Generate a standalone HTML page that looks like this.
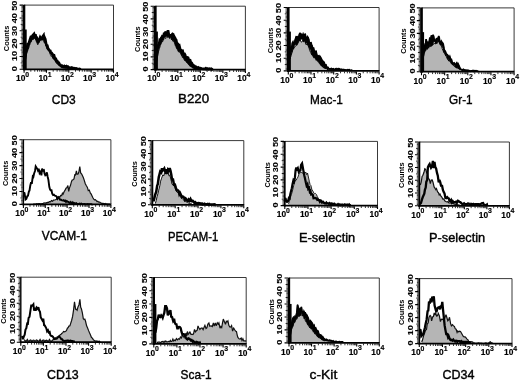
<!DOCTYPE html>
<html><head><meta charset="utf-8"><title>Flow cytometry histograms</title>
<style>
html,body{margin:0;padding:0;background:#fff;}
body{width:520px;height:380px;overflow:hidden;font-family:"Liberation Sans",sans-serif;}
svg{display:block;will-change:transform;opacity:0.999;filter:blur(0.3px)}
text{font-family:"Liberation Sans",sans-serif;fill:#000}
.yt{font-size:8.1px;font-weight:bold;stroke:#000;stroke-width:0.12px}
.ct{font-size:7.4px;font-weight:bold}
.xt{font-size:8.4px;font-weight:bold;stroke:#000;stroke-width:0.15px}
.xs{font-size:6.9px;font-weight:bold;stroke:#000;stroke-width:0.15px}
.lb{font-size:12.4px;stroke:#000;stroke-width:0.38px}
</style></head><body>
<svg width="520" height="380" viewBox="0 0 520 380">
<rect width="520" height="380" fill="#fff"/>
<g><path d="M25.0,69.3 L25.0,62.0 L25.9,58.5 L26.8,52.4 L27.5,51.4 L28.6,48.0 L29.3,46.4 L30.0,41.5 L30.9,42.2 L31.6,40.1 L32.4,39.0 L33.3,36.7 L34.2,38.8 L35.1,36.5 L36.3,41.8 L37.3,42.2 L38.1,42.0 L38.9,40.9 L40.0,40.3 L40.8,38.0 L41.9,39.8 L42.9,38.6 L43.6,41.4 L44.6,43.1 L45.3,42.9 L46.1,45.3 L46.8,48.2 L47.8,50.4 L48.6,49.9 L49.6,51.8 L50.4,55.1 L51.3,56.6 L52.1,55.8 L52.9,58.2 L53.6,59.3 L54.6,59.7 L55.7,62.2 L56.8,63.4 L57.9,64.5 L58.6,64.4 L59.4,66.1 L60.3,66.2 L61.0,67.2 L62.0,67.6 L62.9,67.4 L63.9,67.9 L64.9,68.3 L65.7,68.1 L66.4,68.1 L67.1,68.6 L68.0,68.3 L69.1,68.3 L70.1,68.7 L70.7,68.9 L71.7,68.8 L72.7,68.6 L73.5,69.0 L74.4,68.7 L75.0,69.0 L75.0,69.3Z" fill="#b5b5b5" stroke="none"/><path d="M25.0,62.0 L25.9,58.5 L26.8,52.4 L27.5,51.4 L28.6,48.0 L29.3,46.4 L30.0,41.5 L30.9,42.2 L31.6,40.1 L32.4,39.0 L33.3,36.7 L34.2,38.8 L35.1,36.5 L36.3,41.8 L37.3,42.2 L38.1,42.0 L38.9,40.9 L40.0,40.3 L40.8,38.0 L41.9,39.8 L42.9,38.6 L43.6,41.4 L44.6,43.1 L45.3,42.9 L46.1,45.3 L46.8,48.2 L47.8,50.4 L48.6,49.9 L49.6,51.8 L50.4,55.1 L51.3,56.6 L52.1,55.8 L52.9,58.2 L53.6,59.3 L54.6,59.7 L55.7,62.2 L56.8,63.4 L57.9,64.5 L58.6,64.4 L59.4,66.1 L60.3,66.2 L61.0,67.2 L62.0,67.6 L62.9,67.4 L63.9,67.9 L64.9,68.3 L65.7,68.1 L66.4,68.1 L67.1,68.6 L68.0,68.3 L69.1,68.3 L70.1,68.7 L70.7,68.9 L71.7,68.8 L72.7,68.6 L73.5,69.0 L74.4,68.7 L75.0,69.0" fill="none" stroke="#111" stroke-width="0.8" stroke-linejoin="miter" stroke-miterlimit="3"/><path d="M25.0,56.0 L25.7,53.7 L26.3,50.9 L26.9,48.5 L27.6,44.2 L28.2,44.2 L29.0,42.6 L29.6,40.7 L30.3,38.5 L30.8,39.2 L31.4,35.8 L31.9,37.2 L32.6,35.4 L33.3,34.8 L34.1,33.8 L34.9,36.1 L35.4,34.4 L36.3,38.5 L36.9,38.2 L37.5,40.5 L38.2,39.9 L38.7,40.7 L39.4,39.1 L40.1,37.3 L40.8,38.5 L41.4,36.9 L42.1,39.3 L42.7,36.5 L43.6,35.2 L44.1,39.0 L44.7,37.8 L45.3,39.2 L45.9,42.5 L46.4,45.1 L47.3,45.5 L48.0,48.3 L48.7,49.3 L49.4,50.4 L50.3,50.8 L50.9,52.8 L51.7,52.9 L52.5,54.2 L53.1,54.7 L53.7,56.8 L54.3,56.2 L55.0,58.9 L55.9,58.9 L56.6,61.1 L57.3,61.1 L58.1,62.7 L58.9,62.8 L59.7,64.6 L60.5,64.9 L61.2,66.0 L62.0,65.8 L62.5,66.9 L63.2,66.9 L63.8,66.7 L64.4,66.0 L65.2,66.5 L65.8,66.4 L66.5,66.0 L67.2,66.7 L68.0,66.6 L68.6,67.2 L69.2,67.5 L70.0,67.7 L70.7,67.9 L71.4,67.6 L72.0,68.3 L72.7,67.9 L73.6,68.5 L74.2,68.2 L74.9,68.6 L75.5,68.8 L76.1,68.4 L76.7,68.5 L77.4,69.0 L78.0,69.0 L78.8,69.0 L79.5,68.9 L80.0,69.0 L75.0,69.0 L74.4,68.9 L73.6,69.0 L73.0,68.7 L72.4,68.7 L71.7,68.6 L71.0,68.6 L70.2,68.6 L69.4,68.7 L68.9,68.4 L68.1,68.6 L67.5,68.6 L66.8,68.4 L66.0,68.1 L65.4,68.3 L64.8,67.8 L64.3,68.1 L63.4,67.8 L62.7,67.2 L62.1,67.0 L61.2,66.7 L60.7,66.5 L60.0,66.4 L59.2,65.1 L58.6,65.2 L57.9,64.0 L57.1,64.1 L56.4,62.3 L55.6,61.9 L55.0,60.3 L54.4,59.6 L53.8,58.8 L52.9,58.3 L52.2,56.4 L51.5,55.1 L50.9,54.5 L50.3,53.4 L49.8,52.7 L49.0,51.1 L48.1,49.9 L47.3,49.4 L46.4,47.3 L45.9,45.1 L45.2,43.1 L44.4,42.6 L43.7,39.7 L42.8,39.8 L42.0,40.2 L41.4,39.8 L40.8,38.4 L40.0,40.6 L39.1,42.4 L38.4,43.5 L37.8,44.8 L37.2,43.5 L36.5,40.2 L35.7,39.4 L35.0,38.2 L34.4,37.8 L33.6,39.3 L32.7,39.8 L32.1,39.2 L31.3,40.2 L30.4,41.5 L29.9,44.5 L29.3,43.9 L28.5,48.6 L27.8,49.3 L27.1,51.5 L26.3,54.7 L25.7,59.1 L25.0,62.0Z" fill="#000" stroke="#000" stroke-width="0.8" stroke-linejoin="miter" stroke-miterlimit="4"/><path d="M25.0,56.0 L25.7,53.7 L26.3,50.9 L26.9,48.5 L27.6,44.2 L28.2,44.2 L29.0,42.6 L29.6,40.7 L30.3,38.5 L30.8,39.2 L31.4,35.8 L31.9,37.2 L32.6,35.4 L33.3,34.8 L34.1,33.8 L34.9,36.1 L35.4,34.4 L36.3,38.5 L36.9,38.2 L37.5,40.5 L38.2,39.9 L38.7,40.7 L39.4,39.1 L40.1,37.3 L40.8,38.5 L41.4,36.9 L42.1,39.3 L42.7,36.5 L43.6,35.2 L44.1,39.0 L44.7,37.8 L45.3,39.2 L45.9,42.5 L46.4,45.1 L47.3,45.5 L48.0,48.3 L48.7,49.3 L49.4,50.4 L50.3,50.8 L50.9,52.8 L51.7,52.9 L52.5,54.2 L53.1,54.7 L53.7,56.8 L54.3,56.2 L55.0,58.9 L55.9,58.9 L56.6,61.1 L57.3,61.1 L58.1,62.7 L58.9,62.8 L59.7,64.6 L60.5,64.9 L61.2,66.0 L62.0,65.8 L62.5,66.9 L63.2,66.9 L63.8,66.7 L64.4,66.0 L65.2,66.5 L65.8,66.4 L66.5,66.0 L67.2,66.7 L68.0,66.6 L68.6,67.2 L69.2,67.5 L70.0,67.7 L70.7,67.9 L71.4,67.6 L72.0,68.3 L72.7,67.9 L73.6,68.5 L74.2,68.2 L74.9,68.6 L75.5,68.8 L76.1,68.4 L76.7,68.5 L77.4,69.0 L78.0,69.0 L78.8,69.0 L79.5,68.9 L80.0,69.0" fill="none" stroke="#000" stroke-width="2.6" stroke-linejoin="miter" stroke-miterlimit="3" stroke-linecap="round"/><rect x="24.40" y="29.50" width="2.3" height="39.80" fill="#000"/><path d="M24.10,5.10 H113.50 V69.30" fill="none" stroke="#222" stroke-width="0.9"/><line x1="24.10" y1="4.70" x2="24.10" y2="70.30" stroke="#000" stroke-width="2.4"/><line x1="23.10" y1="69.30" x2="113.90" y2="69.30" stroke="#000" stroke-width="1.8"/><path d="M19.60,69.30h3.4M19.60,56.46h3.4M19.60,43.62h3.4M19.60,30.78h3.4M19.60,17.94h3.4M19.60,5.10h3.4" stroke="#000" stroke-width="1.1" fill="none"/><path d="M20.70,62.88h2.3M20.70,50.04h2.3M20.70,37.20h2.3M20.70,24.36h2.3M20.70,11.52h2.3" stroke="#000" stroke-width="0.9" fill="none"/><path d="M21.40,68.02h1.6M21.40,66.73h1.6M21.40,65.45h1.6M21.40,64.16h1.6M21.40,61.60h1.6M21.40,60.31h1.6M21.40,59.03h1.6M21.40,57.74h1.6M21.40,55.18h1.6M21.40,53.89h1.6M21.40,52.61h1.6M21.40,51.32h1.6M21.40,48.76h1.6M21.40,47.47h1.6M21.40,46.19h1.6M21.40,44.90h1.6M21.40,42.34h1.6M21.40,41.05h1.6M21.40,39.77h1.6M21.40,38.48h1.6M21.40,35.92h1.6M21.40,34.63h1.6M21.40,33.35h1.6M21.40,32.06h1.6M21.40,29.50h1.6M21.40,28.21h1.6M21.40,26.93h1.6M21.40,25.64h1.6M21.40,23.08h1.6M21.40,21.79h1.6M21.40,20.51h1.6M21.40,19.22h1.6M21.40,16.66h1.6M21.40,15.37h1.6M21.40,14.09h1.6M21.40,12.80h1.6M21.40,10.24h1.6M21.40,8.95h1.6M21.40,7.67h1.6M21.40,6.38h1.6" stroke="#000" stroke-width="0.75" fill="none"/><path d="M24.10,69.90v2.9M46.45,69.90v2.9M68.80,69.90v2.9M91.15,69.90v2.9M113.50,69.90v2.9" stroke="#000" stroke-width="1.1" fill="none"/><path d="M30.83,69.90v1.8M34.76,69.90v1.8M37.56,69.90v1.8M39.72,69.90v1.8M41.49,69.90v1.8M42.99,69.90v1.8M44.28,69.90v1.8M45.43,69.90v1.8M53.18,69.90v1.8M57.11,69.90v1.8M59.91,69.90v1.8M62.07,69.90v1.8M63.84,69.90v1.8M65.34,69.90v1.8M66.63,69.90v1.8M67.78,69.90v1.8M75.53,69.90v1.8M79.46,69.90v1.8M82.26,69.90v1.8M84.42,69.90v1.8M86.19,69.90v1.8M87.69,69.90v1.8M88.98,69.90v1.8M90.13,69.90v1.8M97.88,69.90v1.8M101.81,69.90v1.8M104.61,69.90v1.8M106.77,69.90v1.8M108.54,69.90v1.8M110.04,69.90v1.8M111.33,69.90v1.8M112.48,69.90v1.8" stroke="#000" stroke-width="0.8" fill="none"/><text transform="translate(17.30,68.66) rotate(-90) scale(1.12,1)" text-anchor="middle" class="yt">0</text><text transform="translate(17.30,56.07) rotate(-90) scale(1.12,1)" text-anchor="middle" class="yt">10</text><text transform="translate(17.30,43.49) rotate(-90) scale(1.12,1)" text-anchor="middle" class="yt">20</text><text transform="translate(17.30,30.91) rotate(-90) scale(1.12,1)" text-anchor="middle" class="yt">30</text><text transform="translate(17.30,18.33) rotate(-90) scale(1.12,1)" text-anchor="middle" class="yt">40</text><text transform="translate(17.30,5.74) rotate(-90) scale(1.12,1)" text-anchor="middle" class="yt">50</text><text transform="translate(8.80,38.48) rotate(-90)" text-anchor="middle" class="ct">Counts</text><text x="25.40" y="81.10" text-anchor="end" class="xt">10</text><text x="25.30" y="76.60" text-anchor="start" class="xs">0</text><text x="47.75" y="81.10" text-anchor="end" class="xt">10</text><text x="47.65" y="76.60" text-anchor="start" class="xs">1</text><text x="70.10" y="81.10" text-anchor="end" class="xt">10</text><text x="70.00" y="76.60" text-anchor="start" class="xs">2</text><text x="92.45" y="81.10" text-anchor="end" class="xt">10</text><text x="92.35" y="76.60" text-anchor="start" class="xs">3</text><text x="114.80" y="81.10" text-anchor="end" class="xt">10</text><text x="114.70" y="76.60" text-anchor="start" class="xs">4</text><text x="51.80" y="104.20" textLength="24.0" lengthAdjust="spacingAndGlyphs" class="lb">CD3</text></g>
<g><path d="M156.5,69.6 L156.5,62.0 L157.2,58.2 L158.1,53.2 L159.2,49.0 L160.0,46.7 L160.9,41.9 L161.7,42.3 L162.8,41.6 L163.8,39.3 L164.7,35.8 L165.5,38.8 L166.2,37.8 L167.1,35.0 L167.9,34.5 L168.7,35.7 L169.8,38.5 L170.8,35.9 L171.5,40.0 L172.3,37.9 L173.2,41.9 L174.0,41.3 L174.7,42.1 L175.8,44.7 L176.8,48.1 L177.7,48.4 L178.5,50.0 L179.5,51.5 L180.4,53.2 L181.4,54.5 L182.4,57.5 L183.5,57.1 L184.6,60.4 L185.5,60.4 L186.6,61.9 L187.6,62.9 L188.7,64.2 L189.5,65.2 L190.2,66.6 L191.3,66.4 L192.1,67.5 L193.1,67.9 L194.1,68.6 L195.1,68.2 L196.1,68.8 L196.9,68.6 L197.9,68.8 L198.9,68.6 L199.8,68.8 L200.0,69.0 L200.0,69.6Z" fill="#b5b5b5" stroke="none"/><path d="M156.5,62.0 L157.2,58.2 L158.1,53.2 L159.2,49.0 L160.0,46.7 L160.9,41.9 L161.7,42.3 L162.8,41.6 L163.8,39.3 L164.7,35.8 L165.5,38.8 L166.2,37.8 L167.1,35.0 L167.9,34.5 L168.7,35.7 L169.8,38.5 L170.8,35.9 L171.5,40.0 L172.3,37.9 L173.2,41.9 L174.0,41.3 L174.7,42.1 L175.8,44.7 L176.8,48.1 L177.7,48.4 L178.5,50.0 L179.5,51.5 L180.4,53.2 L181.4,54.5 L182.4,57.5 L183.5,57.1 L184.6,60.4 L185.5,60.4 L186.6,61.9 L187.6,62.9 L188.7,64.2 L189.5,65.2 L190.2,66.6 L191.3,66.4 L192.1,67.5 L193.1,67.9 L194.1,68.6 L195.1,68.2 L196.1,68.8 L196.9,68.6 L197.9,68.8 L198.9,68.6 L199.8,68.8 L200.0,69.0" fill="none" stroke="#111" stroke-width="0.8" stroke-linejoin="miter" stroke-miterlimit="3"/><path d="M156.5,50.0 L157.4,47.0 L158.2,45.4 L159.0,44.7 L159.6,40.8 L160.3,41.8 L161.2,38.2 L162.0,38.5 L162.6,35.1 L163.5,37.3 L164.2,32.7 L164.8,35.0 L165.6,31.6 L166.2,34.6 L166.8,33.8 L167.3,33.3 L168.0,30.3 L168.8,34.6 L169.6,36.0 L170.3,35.8 L171.0,36.0 L171.6,35.0 L172.5,33.9 L173.2,34.4 L173.7,36.3 L174.4,39.3 L174.9,37.7 L175.7,39.1 L176.2,39.9 L177.1,44.6 L177.8,42.9 L178.6,46.6 L179.4,45.9 L180.2,49.2 L181.1,50.3 L181.8,50.9 L182.6,50.8 L183.1,52.9 L183.7,53.7 L184.5,53.8 L185.1,54.8 L185.7,57.3 L186.5,57.6 L187.4,57.4 L188.1,57.7 L188.8,60.0 L189.4,60.6 L190.2,60.4 L191.0,62.8 L191.7,62.9 L192.2,63.9 L193.0,65.6 L193.6,65.5 L194.2,66.9 L194.8,66.6 L195.3,67.6 L196.1,66.9 L196.8,67.4 L197.3,67.5 L198.1,68.3 L198.7,67.6 L199.5,68.4 L200.1,68.3 L200.7,68.1 L201.6,68.7 L202.4,68.7 L203.2,68.9 L204.0,68.9 L204.6,68.8 L205.3,69.0 L205.9,68.4 L206.6,69.1 L207.3,68.5 L208.1,69.0 L208.7,69.2 L209.3,68.7 L209.9,68.8 L210.5,69.1 L211.1,68.8 L211.8,69.3 L212.0,69.0 L200.0,69.0 L200.0,69.1 L199.1,68.7 L198.6,69.1 L197.9,68.5 L197.2,69.0 L196.4,68.5 L195.7,68.7 L194.9,68.3 L194.4,68.6 L193.6,68.0 L192.8,68.0 L192.1,67.4 L191.3,66.9 L190.6,66.0 L189.9,66.1 L189.3,64.9 L188.6,64.8 L187.8,63.3 L187.0,62.9 L186.5,62.4 L185.9,60.9 L185.1,60.9 L184.3,59.8 L183.5,57.7 L182.9,57.7 L182.1,55.5 L181.4,55.4 L180.7,53.6 L180.0,52.6 L179.2,51.3 L178.5,51.9 L177.9,50.8 L177.3,49.5 L176.4,48.2 L175.8,46.3 L175.2,45.4 L174.4,42.4 L173.6,40.2 L172.8,41.0 L172.1,38.2 L171.5,39.5 L170.9,36.9 L170.3,36.3 L169.6,38.3 L168.9,37.7 L168.3,34.9 L167.7,37.6 L167.0,35.3 L166.4,35.2 L165.5,36.5 L164.9,36.1 L164.2,36.5 L163.4,39.8 L162.9,38.9 L162.1,42.0 L161.5,41.0 L161.0,44.6 L160.2,44.1 L159.6,47.8 L159.1,47.6 L158.5,51.2 L157.8,54.9 L157.3,58.4 L156.5,62.0Z" fill="#000" stroke="#000" stroke-width="0.8" stroke-linejoin="miter" stroke-miterlimit="4"/><path d="M156.5,50.0 L157.4,47.0 L158.2,45.4 L159.0,44.7 L159.6,40.8 L160.3,41.8 L161.2,38.2 L162.0,38.5 L162.6,35.1 L163.5,37.3 L164.2,32.7 L164.8,35.0 L165.6,31.6 L166.2,34.6 L166.8,33.8 L167.3,33.3 L168.0,30.3 L168.8,34.6 L169.6,36.0 L170.3,35.8 L171.0,36.0 L171.6,35.0 L172.5,33.9 L173.2,34.4 L173.7,36.3 L174.4,39.3 L174.9,37.7 L175.7,39.1 L176.2,39.9 L177.1,44.6 L177.8,42.9 L178.6,46.6 L179.4,45.9 L180.2,49.2 L181.1,50.3 L181.8,50.9 L182.6,50.8 L183.1,52.9 L183.7,53.7 L184.5,53.8 L185.1,54.8 L185.7,57.3 L186.5,57.6 L187.4,57.4 L188.1,57.7 L188.8,60.0 L189.4,60.6 L190.2,60.4 L191.0,62.8 L191.7,62.9 L192.2,63.9 L193.0,65.6 L193.6,65.5 L194.2,66.9 L194.8,66.6 L195.3,67.6 L196.1,66.9 L196.8,67.4 L197.3,67.5 L198.1,68.3 L198.7,67.6 L199.5,68.4 L200.1,68.3 L200.7,68.1 L201.6,68.7 L202.4,68.7 L203.2,68.9 L204.0,68.9 L204.6,68.8 L205.3,69.0 L205.9,68.4 L206.6,69.1 L207.3,68.5 L208.1,69.0 L208.7,69.2 L209.3,68.7 L209.9,68.8 L210.5,69.1 L211.1,68.8 L211.8,69.3 L212.0,69.0" fill="none" stroke="#000" stroke-width="2.6" stroke-linejoin="miter" stroke-miterlimit="3" stroke-linecap="round"/><rect x="155.60" y="31.56" width="2.3" height="38.04" fill="#000"/><path d="M155.30,6.20 H245.40 V69.60" fill="none" stroke="#222" stroke-width="0.9"/><line x1="155.30" y1="5.80" x2="155.30" y2="70.60" stroke="#000" stroke-width="2.7"/><line x1="154.30" y1="69.60" x2="245.80" y2="69.60" stroke="#000" stroke-width="1.8"/><path d="M150.65,69.60h3.4M150.65,56.92h3.4M150.65,44.24h3.4M150.65,31.56h3.4M150.65,18.88h3.4M150.65,6.20h3.4" stroke="#000" stroke-width="1.1" fill="none"/><path d="M151.75,63.26h2.3M151.75,50.58h2.3M151.75,37.90h2.3M151.75,25.22h2.3M151.75,12.54h2.3" stroke="#000" stroke-width="0.9" fill="none"/><path d="M152.45,68.33h1.6M152.45,67.06h1.6M152.45,65.80h1.6M152.45,64.53h1.6M152.45,61.99h1.6M152.45,60.72h1.6M152.45,59.46h1.6M152.45,58.19h1.6M152.45,55.65h1.6M152.45,54.38h1.6M152.45,53.12h1.6M152.45,51.85h1.6M152.45,49.31h1.6M152.45,48.04h1.6M152.45,46.78h1.6M152.45,45.51h1.6M152.45,42.97h1.6M152.45,41.70h1.6M152.45,40.44h1.6M152.45,39.17h1.6M152.45,36.63h1.6M152.45,35.36h1.6M152.45,34.10h1.6M152.45,32.83h1.6M152.45,30.29h1.6M152.45,29.02h1.6M152.45,27.76h1.6M152.45,26.49h1.6M152.45,23.95h1.6M152.45,22.68h1.6M152.45,21.42h1.6M152.45,20.15h1.6M152.45,17.61h1.6M152.45,16.34h1.6M152.45,15.08h1.6M152.45,13.81h1.6M152.45,11.27h1.6M152.45,10.00h1.6M152.45,8.74h1.6M152.45,7.47h1.6" stroke="#000" stroke-width="0.75" fill="none"/><path d="M155.30,70.20v2.9M177.83,70.20v2.9M200.35,70.20v2.9M222.88,70.20v2.9M245.40,70.20v2.9" stroke="#000" stroke-width="1.1" fill="none"/><path d="M162.08,70.20v1.8M166.05,70.20v1.8M168.86,70.20v1.8M171.04,70.20v1.8M172.83,70.20v1.8M174.34,70.20v1.8M175.64,70.20v1.8M176.79,70.20v1.8M184.61,70.20v1.8M188.57,70.20v1.8M191.39,70.20v1.8M193.57,70.20v1.8M195.35,70.20v1.8M196.86,70.20v1.8M198.17,70.20v1.8M199.32,70.20v1.8M207.13,70.20v1.8M211.10,70.20v1.8M213.91,70.20v1.8M216.09,70.20v1.8M217.88,70.20v1.8M219.39,70.20v1.8M220.69,70.20v1.8M221.84,70.20v1.8M229.66,70.20v1.8M233.62,70.20v1.8M236.44,70.20v1.8M238.62,70.20v1.8M240.40,70.20v1.8M241.91,70.20v1.8M243.22,70.20v1.8M244.37,70.20v1.8" stroke="#000" stroke-width="0.8" fill="none"/><text transform="translate(148.35,68.97) rotate(-90) scale(1.12,1)" text-anchor="middle" class="yt">0</text><text transform="translate(148.35,56.54) rotate(-90) scale(1.12,1)" text-anchor="middle" class="yt">10</text><text transform="translate(148.35,44.11) rotate(-90) scale(1.12,1)" text-anchor="middle" class="yt">20</text><text transform="translate(148.35,31.69) rotate(-90) scale(1.12,1)" text-anchor="middle" class="yt">30</text><text transform="translate(148.35,19.26) rotate(-90) scale(1.12,1)" text-anchor="middle" class="yt">40</text><text transform="translate(148.35,6.83) rotate(-90) scale(1.12,1)" text-anchor="middle" class="yt">50</text><text transform="translate(140.00,39.17) rotate(-90)" text-anchor="middle" class="ct">Counts</text><text x="156.60" y="81.40" text-anchor="end" class="xt">10</text><text x="156.50" y="76.90" text-anchor="start" class="xs">0</text><text x="179.13" y="81.40" text-anchor="end" class="xt">10</text><text x="179.03" y="76.90" text-anchor="start" class="xs">1</text><text x="201.65" y="81.40" text-anchor="end" class="xt">10</text><text x="201.55" y="76.90" text-anchor="start" class="xs">2</text><text x="224.18" y="81.40" text-anchor="end" class="xt">10</text><text x="224.07" y="76.90" text-anchor="start" class="xs">3</text><text x="246.70" y="81.40" text-anchor="end" class="xt">10</text><text x="246.60" y="76.90" text-anchor="start" class="xs">4</text><text x="178.00" y="102.70" textLength="31.1" lengthAdjust="spacingAndGlyphs" class="lb">B220</text></g>
<g><path d="M290.2,70.9 L290.2,58.8 L290.9,55.7 L291.9,53.0 L292.6,50.2 L293.7,47.5 L294.6,47.4 L295.7,45.6 L296.8,44.7 L297.6,41.5 L298.4,41.3 L299.3,40.4 L300.1,39.8 L301.3,42.2 L302.3,41.4 L303.4,39.9 L304.3,40.2 L305.1,40.9 L306.1,44.9 L307.2,43.8 L308.0,45.5 L309.0,47.8 L309.7,50.7 L310.7,52.4 L311.8,55.1 L312.6,54.3 L313.4,57.1 L314.2,58.2 L314.9,57.4 L315.9,58.5 L316.8,60.6 L317.6,60.5 L318.3,61.7 L319.3,62.4 L320.3,63.7 L321.5,65.2 L322.3,66.0 L323.0,67.4 L323.7,67.7 L324.5,67.6 L325.2,68.6 L326.1,68.4 L327.0,69.4 L328.0,69.6 L328.0,70.9Z" fill="#b5b5b5" stroke="none"/><path d="M290.2,58.8 L290.9,55.7 L291.9,53.0 L292.6,50.2 L293.7,47.5 L294.6,47.4 L295.7,45.6 L296.8,44.7 L297.6,41.5 L298.4,41.3 L299.3,40.4 L300.1,39.8 L301.3,42.2 L302.3,41.4 L303.4,39.9 L304.3,40.2 L305.1,40.9 L306.1,44.9 L307.2,43.8 L308.0,45.5 L309.0,47.8 L309.7,50.7 L310.7,52.4 L311.8,55.1 L312.6,54.3 L313.4,57.1 L314.2,58.2 L314.9,57.4 L315.9,58.5 L316.8,60.6 L317.6,60.5 L318.3,61.7 L319.3,62.4 L320.3,63.7 L321.5,65.2 L322.3,66.0 L323.0,67.4 L323.7,67.7 L324.5,67.6 L325.2,68.6 L326.1,68.4 L327.0,69.4 L328.0,69.6" fill="none" stroke="#111" stroke-width="1.0" stroke-linejoin="miter" stroke-miterlimit="3"/><path d="M289.6,53.8 L290.2,51.0 L291.0,47.4 L291.6,48.6 L292.3,42.9 L292.9,41.9 L293.5,44.3 L294.3,43.3 L294.9,40.8 L295.8,37.7 L296.3,38.7 L296.9,36.1 L297.8,38.5 L298.6,37.4 L299.4,34.0 L300.0,33.2 L300.9,33.7 L301.6,36.3 L302.3,36.0 L303.1,34.0 L303.8,35.8 L304.3,37.1 L305.2,33.7 L306.0,38.7 L306.7,39.2 L307.5,36.7 L308.2,37.6 L308.9,39.8 L309.4,43.9 L310.2,44.8 L310.8,42.1 L311.5,44.3 L312.1,45.7 L312.8,48.5 L313.6,48.1 L314.5,52.0 L315.0,50.7 L315.6,53.5 L316.3,52.2 L316.9,55.2 L317.7,55.6 L318.4,55.9 L319.2,57.5 L319.8,56.1 L320.5,57.2 L321.3,58.7 L322.2,60.5 L322.8,62.7 L323.4,61.6 L324.1,62.3 L324.8,64.0 L325.5,65.4 L326.1,65.0 L326.7,66.9 L327.4,67.3 L328.0,67.3 L328.7,68.4 L329.3,68.8 L330.0,68.9 L330.7,68.8 L331.4,68.4 L332.0,69.1 L332.9,68.9 L333.5,68.7 L334.2,69.6 L335.0,69.4 L335.6,68.8 L336.3,69.3 L336.8,68.7 L337.5,69.4 L338.2,68.7 L338.8,69.5 L339.6,68.9 L340.3,69.7 L340.9,69.3 L341.4,70.0 L342.0,69.4 L342.8,70.1 L343.4,69.6 L344.0,70.0 L344.8,69.7 L345.6,70.1 L346.4,70.1 L347.3,70.1 L347.8,69.7 L348.7,69.8 L349.4,69.7 L350.0,70.4 L350.6,70.5 L351.4,70.3 L352.0,70.2 L328.0,69.6 L327.2,69.3 L326.6,68.7 L325.9,68.7 L325.1,68.0 L324.6,68.2 L324.0,68.0 L323.3,66.7 L322.7,66.8 L321.8,66.2 L321.2,65.7 L320.5,65.2 L320.0,64.2 L319.2,63.3 L318.4,61.3 L317.8,61.6 L316.9,59.4 L316.1,60.3 L315.3,57.9 L314.6,57.9 L314.0,57.2 L313.1,56.5 L312.3,54.4 L311.6,54.0 L310.7,50.6 L310.2,49.3 L309.6,48.6 L309.0,47.4 L308.5,46.0 L307.8,44.9 L307.2,43.9 L306.5,42.7 L305.8,43.4 L304.9,42.0 L304.2,39.9 L303.6,41.8 L303.1,41.9 L302.4,39.2 L301.7,39.0 L300.9,39.5 L300.0,40.0 L299.5,40.9 L298.7,41.7 L298.0,43.2 L297.4,44.5 L296.7,45.4 L295.8,43.7 L295.2,45.1 L294.4,45.3 L293.7,49.1 L293.1,47.8 L292.5,51.1 L291.8,52.1 L291.0,55.1 L290.2,58.8Z" fill="#000" stroke="#000" stroke-width="0.8" stroke-linejoin="miter" stroke-miterlimit="4"/><path d="M289.6,53.8 L290.2,51.0 L291.0,47.4 L291.6,48.6 L292.3,42.9 L292.9,41.9 L293.5,44.3 L294.3,43.3 L294.9,40.8 L295.8,37.7 L296.3,38.7 L296.9,36.1 L297.8,38.5 L298.6,37.4 L299.4,34.0 L300.0,33.2 L300.9,33.7 L301.6,36.3 L302.3,36.0 L303.1,34.0 L303.8,35.8 L304.3,37.1 L305.2,33.7 L306.0,38.7 L306.7,39.2 L307.5,36.7 L308.2,37.6 L308.9,39.8 L309.4,43.9 L310.2,44.8 L310.8,42.1 L311.5,44.3 L312.1,45.7 L312.8,48.5 L313.6,48.1 L314.5,52.0 L315.0,50.7 L315.6,53.5 L316.3,52.2 L316.9,55.2 L317.7,55.6 L318.4,55.9 L319.2,57.5 L319.8,56.1 L320.5,57.2 L321.3,58.7 L322.2,60.5 L322.8,62.7 L323.4,61.6 L324.1,62.3 L324.8,64.0 L325.5,65.4 L326.1,65.0 L326.7,66.9 L327.4,67.3 L328.0,67.3 L328.7,68.4 L329.3,68.8 L330.0,68.9 L330.7,68.8 L331.4,68.4 L332.0,69.1 L332.9,68.9 L333.5,68.7 L334.2,69.6 L335.0,69.4 L335.6,68.8 L336.3,69.3 L336.8,68.7 L337.5,69.4 L338.2,68.7 L338.8,69.5 L339.6,68.9 L340.3,69.7 L340.9,69.3 L341.4,70.0 L342.0,69.4 L342.8,70.1 L343.4,69.6 L344.0,70.0 L344.8,69.7 L345.6,70.1 L346.4,70.1 L347.3,70.1 L347.8,69.7 L348.7,69.8 L349.4,69.7 L350.0,70.4 L350.6,70.5 L351.4,70.3 L352.0,70.2" fill="none" stroke="#000" stroke-width="1.6" stroke-linejoin="miter" stroke-miterlimit="3" stroke-linecap="round"/><rect x="288.60" y="31.59" width="2.3" height="39.31" fill="#000"/><path d="M288.30,7.50 H379.10 V70.90" fill="none" stroke="#222" stroke-width="0.9"/><line x1="288.30" y1="7.10" x2="288.30" y2="71.90" stroke="#000" stroke-width="2.6"/><line x1="287.30" y1="70.90" x2="379.50" y2="70.90" stroke="#000" stroke-width="1.8"/><path d="M283.70,70.90h3.4M283.70,58.22h3.4M283.70,45.54h3.4M283.70,32.86h3.4M283.70,20.18h3.4M283.70,7.50h3.4" stroke="#000" stroke-width="1.1" fill="none"/><path d="M284.80,64.56h2.3M284.80,51.88h2.3M284.80,39.20h2.3M284.80,26.52h2.3M284.80,13.84h2.3" stroke="#000" stroke-width="0.9" fill="none"/><path d="M285.50,69.63h1.6M285.50,68.36h1.6M285.50,67.10h1.6M285.50,65.83h1.6M285.50,63.29h1.6M285.50,62.02h1.6M285.50,60.76h1.6M285.50,59.49h1.6M285.50,56.95h1.6M285.50,55.68h1.6M285.50,54.42h1.6M285.50,53.15h1.6M285.50,50.61h1.6M285.50,49.34h1.6M285.50,48.08h1.6M285.50,46.81h1.6M285.50,44.27h1.6M285.50,43.00h1.6M285.50,41.74h1.6M285.50,40.47h1.6M285.50,37.93h1.6M285.50,36.66h1.6M285.50,35.40h1.6M285.50,34.13h1.6M285.50,31.59h1.6M285.50,30.32h1.6M285.50,29.06h1.6M285.50,27.79h1.6M285.50,25.25h1.6M285.50,23.98h1.6M285.50,22.72h1.6M285.50,21.45h1.6M285.50,18.91h1.6M285.50,17.64h1.6M285.50,16.38h1.6M285.50,15.11h1.6M285.50,12.57h1.6M285.50,11.30h1.6M285.50,10.04h1.6M285.50,8.77h1.6" stroke="#000" stroke-width="0.75" fill="none"/><path d="M288.30,71.50v2.9M311.00,71.50v2.9M333.70,71.50v2.9M356.40,71.50v2.9M379.10,71.50v2.9" stroke="#000" stroke-width="1.1" fill="none"/><path d="M295.13,71.50v1.8M299.13,71.50v1.8M301.97,71.50v1.8M304.17,71.50v1.8M305.96,71.50v1.8M307.48,71.50v1.8M308.80,71.50v1.8M309.96,71.50v1.8M317.83,71.50v1.8M321.83,71.50v1.8M324.67,71.50v1.8M326.87,71.50v1.8M328.66,71.50v1.8M330.18,71.50v1.8M331.50,71.50v1.8M332.66,71.50v1.8M340.53,71.50v1.8M344.53,71.50v1.8M347.37,71.50v1.8M349.57,71.50v1.8M351.36,71.50v1.8M352.88,71.50v1.8M354.20,71.50v1.8M355.36,71.50v1.8M363.23,71.50v1.8M367.23,71.50v1.8M370.07,71.50v1.8M372.27,71.50v1.8M374.06,71.50v1.8M375.58,71.50v1.8M376.90,71.50v1.8M378.06,71.50v1.8" stroke="#000" stroke-width="0.8" fill="none"/><text transform="translate(281.40,70.27) rotate(-90) scale(1.12,1)" text-anchor="middle" class="yt">0</text><text transform="translate(281.40,57.84) rotate(-90) scale(1.12,1)" text-anchor="middle" class="yt">10</text><text transform="translate(281.40,45.41) rotate(-90) scale(1.12,1)" text-anchor="middle" class="yt">20</text><text transform="translate(281.40,32.99) rotate(-90) scale(1.12,1)" text-anchor="middle" class="yt">30</text><text transform="translate(281.40,20.56) rotate(-90) scale(1.12,1)" text-anchor="middle" class="yt">40</text><text transform="translate(281.40,8.13) rotate(-90) scale(1.12,1)" text-anchor="middle" class="yt">50</text><text transform="translate(273.00,40.47) rotate(-90)" text-anchor="middle" class="ct">Counts</text><text x="289.60" y="82.70" text-anchor="end" class="xt">10</text><text x="289.50" y="78.20" text-anchor="start" class="xs">0</text><text x="312.30" y="82.70" text-anchor="end" class="xt">10</text><text x="312.20" y="78.20" text-anchor="start" class="xs">1</text><text x="335.00" y="82.70" text-anchor="end" class="xt">10</text><text x="334.90" y="78.20" text-anchor="start" class="xs">2</text><text x="357.70" y="82.70" text-anchor="end" class="xt">10</text><text x="357.60" y="78.20" text-anchor="start" class="xs">3</text><text x="380.40" y="82.70" text-anchor="end" class="xt">10</text><text x="380.30" y="78.20" text-anchor="start" class="xs">4</text><text x="310.10" y="104.20" textLength="32.8" lengthAdjust="spacingAndGlyphs" class="lb">Mac-1</text></g>
<g><path d="M422.8,71.7 L422.8,59.9 L423.6,55.9 L424.7,50.7 L425.7,49.9 L426.6,47.4 L427.6,48.1 L428.4,46.6 L429.4,46.7 L430.4,46.6 L431.4,43.4 L432.4,44.6 L433.2,44.4 L434.3,43.6 L435.2,43.1 L436.3,41.5 L437.1,42.8 L438.0,40.9 L438.7,40.7 L439.7,41.2 L440.6,45.0 L441.5,45.8 L442.1,48.4 L443.2,50.9 L443.9,52.9 L444.9,53.4 L446.0,56.5 L446.8,57.0 L447.7,59.8 L448.5,60.4 L449.3,61.1 L450.4,61.2 L451.4,63.3 L452.1,64.1 L453.1,64.7 L454.1,66.3 L454.8,66.7 L456.0,66.7 L456.9,68.0 L458.0,68.0 L458.9,68.9 L459.8,68.9 L460.8,69.7 L461.7,69.9 L462.7,70.8 L463.0,70.7 L463.0,71.7Z" fill="#b5b5b5" stroke="none"/><path d="M422.8,59.9 L423.6,55.9 L424.7,50.7 L425.7,49.9 L426.6,47.4 L427.6,48.1 L428.4,46.6 L429.4,46.7 L430.4,46.6 L431.4,43.4 L432.4,44.6 L433.2,44.4 L434.3,43.6 L435.2,43.1 L436.3,41.5 L437.1,42.8 L438.0,40.9 L438.7,40.7 L439.7,41.2 L440.6,45.0 L441.5,45.8 L442.1,48.4 L443.2,50.9 L443.9,52.9 L444.9,53.4 L446.0,56.5 L446.8,57.0 L447.7,59.8 L448.5,60.4 L449.3,61.1 L450.4,61.2 L451.4,63.3 L452.1,64.1 L453.1,64.7 L454.1,66.3 L454.8,66.7 L456.0,66.7 L456.9,68.0 L458.0,68.0 L458.9,68.9 L459.8,68.9 L460.8,69.7 L461.7,69.9 L462.7,70.8 L463.0,70.7" fill="none" stroke="#111" stroke-width="1.0" stroke-linejoin="miter" stroke-miterlimit="3"/><path d="M422.8,56.2 L423.5,51.8 L424.2,48.1 L425.0,44.6 L425.5,45.1 L426.1,39.2 L426.8,41.8 L427.6,42.4 L428.4,42.3 L429.2,41.7 L429.8,37.6 L430.6,39.8 L431.4,35.3 L432.3,38.8 L433.0,34.8 L433.6,35.9 L434.2,39.4 L434.9,41.0 L435.5,41.4 L436.3,38.8 L437.1,38.4 L437.9,39.1 L438.7,36.0 L439.3,37.8 L439.9,42.5 L440.8,43.3 L441.4,41.2 L442.0,42.2 L442.7,43.0 L443.3,44.3 L444.0,48.4 L444.6,50.6 L445.3,51.1 L446.1,53.5 L447.0,54.5 L447.7,55.0 L448.5,56.3 L449.2,57.7 L449.8,56.5 L450.6,59.2 L451.4,59.3 L452.2,62.3 L452.9,62.8 L453.4,63.7 L454.2,63.0 L455.1,64.3 L455.8,65.1 L456.5,63.3 L457.3,64.9 L457.9,63.4 L458.7,65.1 L459.6,67.1 L460.3,68.7 L460.9,69.1 L461.5,69.6 L462.1,69.9 L462.7,70.0 L463.3,69.2 L464.0,69.6 L464.8,70.1 L465.5,70.0 L466.3,70.9 L466.8,70.2 L467.7,70.4 L468.4,70.4 L469.0,71.0 L469.8,70.7 L470.7,71.3 L471.5,70.7 L472.2,70.7 L472.8,70.5 L473.4,71.2 L474.0,70.6 L474.8,71.2 L475.4,70.8 L476.1,71.2 L476.8,70.8 L477.4,71.3 L478.0,71.2 L463.0,70.7 L462.4,70.7 L461.6,69.6 L460.8,69.7 L460.2,69.1 L459.6,69.5 L458.8,69.0 L458.2,67.9 L457.6,67.7 L457.0,67.9 L456.2,67.8 L455.4,67.3 L454.6,65.8 L454.0,65.2 L453.3,64.5 L452.7,65.0 L452.0,64.3 L451.1,63.4 L450.4,61.3 L449.8,60.5 L449.2,61.0 L448.6,61.0 L448.0,58.1 L447.4,58.9 L446.7,56.4 L446.0,55.3 L445.5,55.5 L444.9,53.7 L444.2,52.0 L443.7,52.0 L443.1,48.5 L442.2,46.5 L441.7,45.0 L440.9,45.6 L440.2,44.7 L439.7,44.2 L438.9,40.2 L438.2,42.3 L437.5,39.8 L436.8,44.0 L436.1,41.4 L435.4,44.2 L434.8,41.0 L434.2,41.6 L433.5,42.3 L432.9,44.9 L432.1,45.5 L431.3,46.4 L430.5,44.5 L429.9,46.8 L429.3,44.6 L428.7,48.3 L428.0,46.0 L427.4,49.4 L426.7,47.5 L425.9,50.4 L425.2,51.3 L424.6,52.5 L424.1,53.6 L423.4,57.9 L422.8,59.9Z" fill="#000" stroke="#000" stroke-width="0.8" stroke-linejoin="miter" stroke-miterlimit="4"/><path d="M422.8,56.2 L423.5,51.8 L424.2,48.1 L425.0,44.6 L425.5,45.1 L426.1,39.2 L426.8,41.8 L427.6,42.4 L428.4,42.3 L429.2,41.7 L429.8,37.6 L430.6,39.8 L431.4,35.3 L432.3,38.8 L433.0,34.8 L433.6,35.9 L434.2,39.4 L434.9,41.0 L435.5,41.4 L436.3,38.8 L437.1,38.4 L437.9,39.1 L438.7,36.0 L439.3,37.8 L439.9,42.5 L440.8,43.3 L441.4,41.2 L442.0,42.2 L442.7,43.0 L443.3,44.3 L444.0,48.4 L444.6,50.6 L445.3,51.1 L446.1,53.5 L447.0,54.5 L447.7,55.0 L448.5,56.3 L449.2,57.7 L449.8,56.5 L450.6,59.2 L451.4,59.3 L452.2,62.3 L452.9,62.8 L453.4,63.7 L454.2,63.0 L455.1,64.3 L455.8,65.1 L456.5,63.3 L457.3,64.9 L457.9,63.4 L458.7,65.1 L459.6,67.1 L460.3,68.7 L460.9,69.1 L461.5,69.6 L462.1,69.9 L462.7,70.0 L463.3,69.2 L464.0,69.6 L464.8,70.1 L465.5,70.0 L466.3,70.9 L466.8,70.2 L467.7,70.4 L468.4,70.4 L469.0,71.0 L469.8,70.7 L470.7,71.3 L471.5,70.7 L472.2,70.7 L472.8,70.5 L473.4,71.2 L474.0,70.6 L474.8,71.2 L475.4,70.8 L476.1,71.2 L476.8,70.8 L477.4,71.3 L478.0,71.2" fill="none" stroke="#000" stroke-width="1.6" stroke-linejoin="miter" stroke-miterlimit="3" stroke-linecap="round"/><rect x="421.80" y="32.14" width="2.3" height="39.56" fill="#000"/><path d="M421.50,7.90 H514.10 V71.70" fill="none" stroke="#222" stroke-width="0.9"/><line x1="421.50" y1="7.50" x2="421.50" y2="72.70" stroke="#000" stroke-width="2.7"/><line x1="420.50" y1="71.70" x2="514.50" y2="71.70" stroke="#000" stroke-width="1.8"/><path d="M416.85,71.70h3.4M416.85,58.94h3.4M416.85,46.18h3.4M416.85,33.42h3.4M416.85,20.66h3.4M416.85,7.90h3.4" stroke="#000" stroke-width="1.1" fill="none"/><path d="M417.95,65.32h2.3M417.95,52.56h2.3M417.95,39.80h2.3M417.95,27.04h2.3M417.95,14.28h2.3" stroke="#000" stroke-width="0.9" fill="none"/><path d="M418.65,70.42h1.6M418.65,69.15h1.6M418.65,67.87h1.6M418.65,66.60h1.6M418.65,64.04h1.6M418.65,62.77h1.6M418.65,61.49h1.6M418.65,60.22h1.6M418.65,57.66h1.6M418.65,56.39h1.6M418.65,55.11h1.6M418.65,53.84h1.6M418.65,51.28h1.6M418.65,50.01h1.6M418.65,48.73h1.6M418.65,47.46h1.6M418.65,44.90h1.6M418.65,43.63h1.6M418.65,42.35h1.6M418.65,41.08h1.6M418.65,38.52h1.6M418.65,37.25h1.6M418.65,35.97h1.6M418.65,34.70h1.6M418.65,32.14h1.6M418.65,30.87h1.6M418.65,29.59h1.6M418.65,28.32h1.6M418.65,25.76h1.6M418.65,24.49h1.6M418.65,23.21h1.6M418.65,21.94h1.6M418.65,19.38h1.6M418.65,18.11h1.6M418.65,16.83h1.6M418.65,15.56h1.6M418.65,13.00h1.6M418.65,11.73h1.6M418.65,10.45h1.6M418.65,9.18h1.6" stroke="#000" stroke-width="0.75" fill="none"/><path d="M421.50,72.30v2.9M444.65,72.30v2.9M467.80,72.30v2.9M490.95,72.30v2.9M514.10,72.30v2.9" stroke="#000" stroke-width="1.1" fill="none"/><path d="M428.47,72.30v1.8M432.55,72.30v1.8M435.44,72.30v1.8M437.68,72.30v1.8M439.51,72.30v1.8M441.06,72.30v1.8M442.41,72.30v1.8M443.59,72.30v1.8M451.62,72.30v1.8M455.70,72.30v1.8M458.59,72.30v1.8M460.83,72.30v1.8M462.66,72.30v1.8M464.21,72.30v1.8M465.56,72.30v1.8M466.74,72.30v1.8M474.77,72.30v1.8M478.85,72.30v1.8M481.74,72.30v1.8M483.98,72.30v1.8M485.81,72.30v1.8M487.36,72.30v1.8M488.71,72.30v1.8M489.89,72.30v1.8M497.92,72.30v1.8M502.00,72.30v1.8M504.89,72.30v1.8M507.13,72.30v1.8M508.96,72.30v1.8M510.51,72.30v1.8M511.86,72.30v1.8M513.04,72.30v1.8" stroke="#000" stroke-width="0.8" fill="none"/><text transform="translate(414.55,71.06) rotate(-90) scale(1.12,1)" text-anchor="middle" class="yt">0</text><text transform="translate(414.55,58.56) rotate(-90) scale(1.12,1)" text-anchor="middle" class="yt">10</text><text transform="translate(414.55,46.05) rotate(-90) scale(1.12,1)" text-anchor="middle" class="yt">20</text><text transform="translate(414.55,33.55) rotate(-90) scale(1.12,1)" text-anchor="middle" class="yt">30</text><text transform="translate(414.55,21.04) rotate(-90) scale(1.12,1)" text-anchor="middle" class="yt">40</text><text transform="translate(414.55,8.54) rotate(-90) scale(1.12,1)" text-anchor="middle" class="yt">50</text><text transform="translate(406.20,41.08) rotate(-90)" text-anchor="middle" class="ct">Counts</text><text x="422.80" y="83.50" text-anchor="end" class="xt">10</text><text x="422.70" y="79.00" text-anchor="start" class="xs">0</text><text x="445.95" y="83.50" text-anchor="end" class="xt">10</text><text x="445.85" y="79.00" text-anchor="start" class="xs">1</text><text x="469.10" y="83.50" text-anchor="end" class="xt">10</text><text x="469.00" y="79.00" text-anchor="start" class="xs">2</text><text x="492.25" y="83.50" text-anchor="end" class="xt">10</text><text x="492.15" y="79.00" text-anchor="start" class="xs">3</text><text x="515.40" y="83.50" text-anchor="end" class="xt">10</text><text x="515.30" y="79.00" text-anchor="start" class="xs">4</text><text x="449.10" y="104.40" textLength="23.5" lengthAdjust="spacingAndGlyphs" class="lb">Gr-1</text></g>
<g><path d="M33.0,204.4 L33.0,204.3 L33.8,204.1 L34.8,204.1 L35.9,204.1 L36.9,203.7 L37.9,204.1 L38.7,203.5 L39.4,203.5 L40.4,203.8 L41.3,203.8 L42.3,203.6 L43.2,203.4 L44.3,202.8 L45.3,203.2 L46.1,202.7 L46.7,203.0 L47.5,202.4 L48.6,202.3 L49.4,201.6 L50.4,201.9 L51.5,200.6 L52.6,201.2 L53.5,200.1 L54.6,200.0 L55.4,199.7 L56.4,199.2 L57.1,197.6 L57.9,197.8 L58.8,196.5 L59.9,197.0 L60.7,195.4 L61.7,195.5 L62.4,193.2 L63.1,194.1 L64.1,191.7 L65.2,189.9 L66.2,188.0 L66.8,187.7 L67.9,185.5 L68.7,191.3 L69.5,187.9 L70.5,185.3 L71.5,181.4 L72.2,180.1 L73.0,179.8 L74.0,178.9 L74.8,174.7 L75.5,174.9 L76.4,170.9 L77.1,174.3 L78.1,174.1 L78.8,172.3 L79.8,166.6 L80.7,173.0 L81.7,174.2 L82.4,175.6 L83.4,177.7 L84.2,180.1 L85.3,183.7 L86.4,185.7 L87.4,187.4 L88.3,190.7 L89.3,190.1 L90.4,193.1 L91.1,193.9 L92.2,196.2 L92.9,197.7 L93.8,199.1 L94.5,199.8 L95.3,199.6 L96.3,200.6 L97.1,201.7 L97.8,201.2 L98.7,202.1 L99.6,202.0 L100.3,202.5 L101.2,203.1 L102.1,203.3 L103.2,203.3 L104.1,203.8 L105.2,203.5 L105.9,204.1 L106.6,203.8 L107.7,204.1 L108.5,204.1 L109.5,204.1 L110.0,204.4 L110.0,204.4Z" fill="#b5b5b5" stroke="none"/><path d="M33.0,204.3 L33.8,204.1 L34.8,204.1 L35.9,204.1 L36.9,203.7 L37.9,204.1 L38.7,203.5 L39.4,203.5 L40.4,203.8 L41.3,203.8 L42.3,203.6 L43.2,203.4 L44.3,202.8 L45.3,203.2 L46.1,202.7 L46.7,203.0 L47.5,202.4 L48.6,202.3 L49.4,201.6 L50.4,201.9 L51.5,200.6 L52.6,201.2 L53.5,200.1 L54.6,200.0 L55.4,199.7 L56.4,199.2 L57.1,197.6 L57.9,197.8 L58.8,196.5 L59.9,197.0 L60.7,195.4 L61.7,195.5 L62.4,193.2 L63.1,194.1 L64.1,191.7 L65.2,189.9 L66.2,188.0 L66.8,187.7 L67.9,185.5 L68.7,191.3 L69.5,187.9 L70.5,185.3 L71.5,181.4 L72.2,180.1 L73.0,179.8 L74.0,178.9 L74.8,174.7 L75.5,174.9 L76.4,170.9 L77.1,174.3 L78.1,174.1 L78.8,172.3 L79.8,166.6 L80.7,173.0 L81.7,174.2 L82.4,175.6 L83.4,177.7 L84.2,180.1 L85.3,183.7 L86.4,185.7 L87.4,187.4 L88.3,190.7 L89.3,190.1 L90.4,193.1 L91.1,193.9 L92.2,196.2 L92.9,197.7 L93.8,199.1 L94.5,199.8 L95.3,199.6 L96.3,200.6 L97.1,201.7 L97.8,201.2 L98.7,202.1 L99.6,202.0 L100.3,202.5 L101.2,203.1 L102.1,203.3 L103.2,203.3 L104.1,203.8 L105.2,203.5 L105.9,204.1 L106.6,203.8 L107.7,204.1 L108.5,204.1 L109.5,204.1 L110.0,204.4" fill="none" stroke="#111" stroke-width="1.2" stroke-linejoin="miter" stroke-miterlimit="3"/><path d="M24.5,193.0 L25.5,199.6 L26.3,199.0 L27.3,196.2 L28.0,195.7 L28.9,191.5 L29.5,190.6 L30.2,186.0 L30.9,183.0 L31.9,183.0 L32.8,176.3 L33.4,176.8 L34.1,173.5 L35.0,171.0 L35.7,166.4 L36.6,167.8 L37.3,168.7 L37.9,170.4 L38.7,168.8 L39.6,173.2 L40.6,171.8 L41.4,175.3 L42.1,168.7 L43.0,170.7 L43.9,170.2 L44.5,173.4 L45.3,175.3 L46.1,174.8 L46.9,172.4 L47.6,176.5 L48.4,179.8 L49.3,186.8 L50.0,189.3 L50.6,190.2 L51.5,190.2 L52.2,193.7 L53.1,195.1 L53.9,194.7 L54.8,195.6 L55.7,195.8 L56.6,196.6 L57.5,198.7 L58.2,197.5 L59.1,198.0 L60.1,199.7 L61.1,199.7 L62.0,200.4 L62.9,200.6 L63.6,200.2 L64.4,201.0 L65.2,200.5 L66.0,201.9 L66.8,201.0 L67.7,201.8 L68.6,201.9 L69.3,202.8 L69.9,202.9 L70.7,202.0 L71.4,203.0 L72.1,203.3 L72.8,202.4 L73.6,203.5 L74.5,203.0 L75.5,203.6 L76.3,203.1 L77.1,203.9 L78.0,203.9 L78.8,203.9 L79.7,203.6 L80.7,204.1 L81.4,203.6 L82.4,204.1 L83.2,204.1 L83.9,204.0 L84.6,204.0 L85.3,204.1 L86.3,204.1 L87.0,204.1 L87.7,204.0 L88.5,204.1 L89.5,204.1 L90.3,204.1 L91.3,204.1 L92.0,204.5" fill="none" stroke="#000" stroke-width="1.9" stroke-linejoin="miter" stroke-miterlimit="3" stroke-linecap="round"/><path d="M23.40,139.70 H110.90 V204.40" fill="none" stroke="#222" stroke-width="0.9"/><line x1="23.40" y1="139.30" x2="23.40" y2="205.40" stroke="#000" stroke-width="1.4"/><line x1="22.40" y1="204.40" x2="111.30" y2="204.40" stroke="#000" stroke-width="1.8"/><path d="M19.40,204.40h3.4M19.40,191.46h3.4M19.40,178.52h3.4M19.40,165.58h3.4M19.40,152.64h3.4M19.40,139.70h3.4" stroke="#000" stroke-width="1.1" fill="none"/><path d="M20.50,197.93h2.3M20.50,184.99h2.3M20.50,172.05h2.3M20.50,159.11h2.3M20.50,146.17h2.3" stroke="#000" stroke-width="0.9" fill="none"/><path d="M21.20,203.11h1.6M21.20,201.81h1.6M21.20,200.52h1.6M21.20,199.22h1.6M21.20,196.64h1.6M21.20,195.34h1.6M21.20,194.05h1.6M21.20,192.75h1.6M21.20,190.17h1.6M21.20,188.87h1.6M21.20,187.58h1.6M21.20,186.28h1.6M21.20,183.70h1.6M21.20,182.40h1.6M21.20,181.11h1.6M21.20,179.81h1.6M21.20,177.23h1.6M21.20,175.93h1.6M21.20,174.64h1.6M21.20,173.34h1.6M21.20,170.76h1.6M21.20,169.46h1.6M21.20,168.17h1.6M21.20,166.87h1.6M21.20,164.29h1.6M21.20,162.99h1.6M21.20,161.70h1.6M21.20,160.40h1.6M21.20,157.82h1.6M21.20,156.52h1.6M21.20,155.23h1.6M21.20,153.93h1.6M21.20,151.35h1.6M21.20,150.05h1.6M21.20,148.76h1.6M21.20,147.46h1.6M21.20,144.88h1.6M21.20,143.58h1.6M21.20,142.29h1.6M21.20,140.99h1.6" stroke="#000" stroke-width="0.75" fill="none"/><path d="M23.40,205.00v2.9M45.27,205.00v2.9M67.15,205.00v2.9M89.03,205.00v2.9M110.90,205.00v2.9" stroke="#000" stroke-width="1.1" fill="none"/><path d="M29.99,205.00v1.8M33.84,205.00v1.8M36.57,205.00v1.8M38.69,205.00v1.8M40.42,205.00v1.8M41.89,205.00v1.8M43.16,205.00v1.8M44.27,205.00v1.8M51.86,205.00v1.8M55.71,205.00v1.8M58.45,205.00v1.8M60.56,205.00v1.8M62.30,205.00v1.8M63.76,205.00v1.8M65.03,205.00v1.8M66.15,205.00v1.8M73.74,205.00v1.8M77.59,205.00v1.8M80.32,205.00v1.8M82.44,205.00v1.8M84.17,205.00v1.8M85.64,205.00v1.8M86.91,205.00v1.8M88.02,205.00v1.8M95.61,205.00v1.8M99.46,205.00v1.8M102.20,205.00v1.8M104.31,205.00v1.8M106.05,205.00v1.8M107.51,205.00v1.8M108.78,205.00v1.8M109.90,205.00v1.8" stroke="#000" stroke-width="0.8" fill="none"/><text transform="translate(17.10,203.75) rotate(-90) scale(1.12,1)" text-anchor="middle" class="yt">0</text><text transform="translate(17.10,191.07) rotate(-90) scale(1.12,1)" text-anchor="middle" class="yt">10</text><text transform="translate(17.10,178.39) rotate(-90) scale(1.12,1)" text-anchor="middle" class="yt">20</text><text transform="translate(17.10,165.71) rotate(-90) scale(1.12,1)" text-anchor="middle" class="yt">30</text><text transform="translate(17.10,153.03) rotate(-90) scale(1.12,1)" text-anchor="middle" class="yt">40</text><text transform="translate(17.10,140.35) rotate(-90) scale(1.12,1)" text-anchor="middle" class="yt">50</text><text transform="translate(8.10,173.34) rotate(-90)" text-anchor="middle" class="ct">Counts</text><text x="24.70" y="216.20" text-anchor="end" class="xt">10</text><text x="24.60" y="211.70" text-anchor="start" class="xs">0</text><text x="46.57" y="216.20" text-anchor="end" class="xt">10</text><text x="46.48" y="211.70" text-anchor="start" class="xs">1</text><text x="68.45" y="216.20" text-anchor="end" class="xt">10</text><text x="68.35" y="211.70" text-anchor="start" class="xs">2</text><text x="90.33" y="216.20" text-anchor="end" class="xt">10</text><text x="90.23" y="211.70" text-anchor="start" class="xs">3</text><text x="112.20" y="216.20" text-anchor="end" class="xt">10</text><text x="112.10" y="211.70" text-anchor="start" class="xs">4</text><text x="41.80" y="239.70" textLength="45.1" lengthAdjust="spacingAndGlyphs" class="lb">VCAM-1</text></g>
<g><path d="M155.3,204.8 L155.3,203.6 L156.2,200.7 L157.0,196.8 L157.9,193.8 L158.7,190.2 L159.8,185.8 L160.6,181.2 L161.6,178.2 L162.8,174.9 L163.7,176.0 L164.5,173.3 L165.3,172.5 L166.2,173.8 L167.2,173.9 L167.9,172.5 L168.7,175.5 L169.4,174.9 L170.3,177.1 L171.0,179.1 L171.9,183.9 L172.8,185.0 L173.9,185.5 L175.0,187.7 L175.8,190.5 L176.9,192.1 L177.9,192.7 L178.9,194.1 L179.8,195.5 L180.6,196.6 L181.6,198.5 L182.4,198.6 L183.2,199.4 L183.9,200.7 L184.8,201.4 L185.8,201.4 L186.5,202.0 L187.4,202.3 L188.2,202.8 L189.1,203.5 L190.0,203.8 L191.1,203.7 L192.0,204.1 L192.0,204.2 L192.0,204.8Z" fill="#b5b5b5" stroke="none"/><path d="M155.3,203.6 L156.2,200.7 L157.0,196.8 L157.9,193.8 L158.7,190.2 L159.8,185.8 L160.6,181.2 L161.6,178.2 L162.8,174.9 L163.7,176.0 L164.5,173.3 L165.3,172.5 L166.2,173.8 L167.2,173.9 L167.9,172.5 L168.7,175.5 L169.4,174.9 L170.3,177.1 L171.0,179.1 L171.9,183.9 L172.8,185.0 L173.9,185.5 L175.0,187.7 L175.8,190.5 L176.9,192.1 L177.9,192.7 L178.9,194.1 L179.8,195.5 L180.6,196.6 L181.6,198.5 L182.4,198.6 L183.2,199.4 L183.9,200.7 L184.8,201.4 L185.8,201.4 L186.5,202.0 L187.4,202.3 L188.2,202.8 L189.1,203.5 L190.0,203.8 L191.1,203.7 L192.0,204.1 L192.0,204.2" fill="none" stroke="#111" stroke-width="1.0" stroke-linejoin="miter" stroke-miterlimit="3"/><path d="M153.8,200.4 L154.8,196.1 L155.5,193.7 L156.2,192.0 L157.2,185.5 L157.8,184.2 L158.8,177.1 L159.4,174.8 L160.2,171.6 L161.2,172.5 L162.0,168.3 L162.7,170.6 L163.4,169.8 L164.3,168.5 L165.0,170.8 L165.9,173.8 L166.7,169.1 L167.4,173.9 L168.1,169.5 L169.1,170.4 L169.7,168.1 L170.5,170.9 L171.3,174.8 L172.0,179.4 L173.0,179.4 L174.0,184.7 L174.9,184.6 L175.9,187.9 L176.7,190.0 L177.3,190.4 L178.1,190.4 L178.7,191.2 L179.4,194.2 L180.1,193.1 L181.0,195.1 L181.8,197.0 L182.5,196.4 L183.3,196.8 L184.2,197.9 L184.9,199.5 L185.5,198.4 L186.1,198.8 L186.9,200.6 L187.9,201.0 L188.7,199.6 L189.6,200.8 L190.5,199.1 L191.4,201.1 L192.0,201.4 L192.8,200.8 L193.5,201.5 L194.5,203.0 L195.2,202.4 L196.0,203.4 L196.9,203.0 L197.7,203.3 L198.6,203.1 L199.5,203.2 L200.3,203.5 L201.1,204.0 L201.9,203.6 L202.7,204.3 L203.4,204.1 L204.0,204.2 L204.6,203.8 L205.5,204.3 L206.2,204.2 L206.9,204.5 L207.8,203.9 L208.7,204.5 L209.3,204.0 L210.0,204.5 L211.0,204.5 L211.6,204.5 L212.5,204.5 L213.4,204.5 L214.1,204.3 L215.0,204.5 L215.0,204.5" fill="none" stroke="#000" stroke-width="2.5" stroke-linejoin="miter" stroke-miterlimit="3" stroke-linecap="round"/><path d="M152.30,140.60 H243.80 V204.80" fill="none" stroke="#222" stroke-width="0.9"/><line x1="152.30" y1="140.20" x2="152.30" y2="205.80" stroke="#000" stroke-width="2.0"/><line x1="151.30" y1="204.80" x2="244.20" y2="204.80" stroke="#000" stroke-width="1.8"/><path d="M148.00,204.80h3.4M148.00,191.96h3.4M148.00,179.12h3.4M148.00,166.28h3.4M148.00,153.44h3.4M148.00,140.60h3.4" stroke="#000" stroke-width="1.1" fill="none"/><path d="M149.10,198.38h2.3M149.10,185.54h2.3M149.10,172.70h2.3M149.10,159.86h2.3M149.10,147.02h2.3" stroke="#000" stroke-width="0.9" fill="none"/><path d="M149.80,203.52h1.6M149.80,202.23h1.6M149.80,200.95h1.6M149.80,199.66h1.6M149.80,197.10h1.6M149.80,195.81h1.6M149.80,194.53h1.6M149.80,193.24h1.6M149.80,190.68h1.6M149.80,189.39h1.6M149.80,188.11h1.6M149.80,186.82h1.6M149.80,184.26h1.6M149.80,182.97h1.6M149.80,181.69h1.6M149.80,180.40h1.6M149.80,177.84h1.6M149.80,176.55h1.6M149.80,175.27h1.6M149.80,173.98h1.6M149.80,171.42h1.6M149.80,170.13h1.6M149.80,168.85h1.6M149.80,167.56h1.6M149.80,165.00h1.6M149.80,163.71h1.6M149.80,162.43h1.6M149.80,161.14h1.6M149.80,158.58h1.6M149.80,157.29h1.6M149.80,156.01h1.6M149.80,154.72h1.6M149.80,152.16h1.6M149.80,150.87h1.6M149.80,149.59h1.6M149.80,148.30h1.6M149.80,145.74h1.6M149.80,144.45h1.6M149.80,143.17h1.6M149.80,141.88h1.6" stroke="#000" stroke-width="0.75" fill="none"/><path d="M152.30,205.40v2.9M175.18,205.40v2.9M198.05,205.40v2.9M220.93,205.40v2.9M243.80,205.40v2.9" stroke="#000" stroke-width="1.1" fill="none"/><path d="M159.19,205.40v1.8M163.21,205.40v1.8M166.07,205.40v1.8M168.29,205.40v1.8M170.10,205.40v1.8M171.63,205.40v1.8M172.96,205.40v1.8M174.13,205.40v1.8M182.06,205.40v1.8M186.09,205.40v1.8M188.95,205.40v1.8M191.16,205.40v1.8M192.98,205.40v1.8M194.51,205.40v1.8M195.83,205.40v1.8M197.00,205.40v1.8M204.94,205.40v1.8M208.96,205.40v1.8M211.82,205.40v1.8M214.04,205.40v1.8M215.85,205.40v1.8M217.38,205.40v1.8M218.71,205.40v1.8M219.88,205.40v1.8M227.81,205.40v1.8M231.84,205.40v1.8M234.70,205.40v1.8M236.91,205.40v1.8M238.73,205.40v1.8M240.26,205.40v1.8M241.58,205.40v1.8M242.75,205.40v1.8" stroke="#000" stroke-width="0.8" fill="none"/><text transform="translate(145.70,204.16) rotate(-90) scale(1.12,1)" text-anchor="middle" class="yt">0</text><text transform="translate(145.70,191.57) rotate(-90) scale(1.12,1)" text-anchor="middle" class="yt">10</text><text transform="translate(145.70,178.99) rotate(-90) scale(1.12,1)" text-anchor="middle" class="yt">20</text><text transform="translate(145.70,166.41) rotate(-90) scale(1.12,1)" text-anchor="middle" class="yt">30</text><text transform="translate(145.70,153.83) rotate(-90) scale(1.12,1)" text-anchor="middle" class="yt">40</text><text transform="translate(145.70,141.24) rotate(-90) scale(1.12,1)" text-anchor="middle" class="yt">50</text><text transform="translate(137.00,173.98) rotate(-90)" text-anchor="middle" class="ct">Counts</text><text x="153.60" y="216.60" text-anchor="end" class="xt">10</text><text x="153.50" y="212.10" text-anchor="start" class="xs">0</text><text x="176.48" y="216.60" text-anchor="end" class="xt">10</text><text x="176.38" y="212.10" text-anchor="start" class="xs">1</text><text x="199.35" y="216.60" text-anchor="end" class="xt">10</text><text x="199.25" y="212.10" text-anchor="start" class="xs">2</text><text x="222.23" y="216.60" text-anchor="end" class="xt">10</text><text x="222.12" y="212.10" text-anchor="start" class="xs">3</text><text x="245.10" y="216.60" text-anchor="end" class="xt">10</text><text x="245.00" y="212.10" text-anchor="start" class="xs">4</text><text x="168.00" y="240.80" textLength="50.3" lengthAdjust="spacingAndGlyphs" class="lb">PECAM-1</text></g>
<g><path d="M288.5,205.6 L288.5,203.8 L289.3,201.5 L290.4,197.5 L291.2,194.8 L292.0,192.7 L292.8,189.4 L293.7,185.5 L294.4,183.3 L295.1,180.6 L296.2,180.2 L297.0,178.5 L298.0,177.0 L298.7,174.6 L299.4,173.8 L300.2,172.4 L301.3,172.2 L302.1,173.2 L303.0,172.7 L304.0,171.4 L305.0,173.2 L305.8,172.1 L306.7,174.7 L307.5,173.0 L308.4,177.0 L309.3,181.2 L310.1,184.7 L310.9,185.5 L311.8,189.3 L312.9,191.1 L313.9,193.1 L314.7,193.7 L315.4,193.4 L316.4,194.4 L317.3,196.6 L318.1,198.0 L319.1,199.6 L320.0,200.1 L320.7,201.1 L321.6,202.5 L322.4,202.8 L323.4,203.3 L324.4,203.8 L325.5,203.8 L326.0,204.2 L326.0,205.6Z" fill="#b5b5b5" stroke="none"/><path d="M288.5,203.8 L289.3,201.5 L290.4,197.5 L291.2,194.8 L292.0,192.7 L292.8,189.4 L293.7,185.5 L294.4,183.3 L295.1,180.6 L296.2,180.2 L297.0,178.5 L298.0,177.0 L298.7,174.6 L299.4,173.8 L300.2,172.4 L301.3,172.2 L302.1,173.2 L303.0,172.7 L304.0,171.4 L305.0,173.2 L305.8,172.1 L306.7,174.7 L307.5,173.0 L308.4,177.0 L309.3,181.2 L310.1,184.7 L310.9,185.5 L311.8,189.3 L312.9,191.1 L313.9,193.1 L314.7,193.7 L315.4,193.4 L316.4,194.4 L317.3,196.6 L318.1,198.0 L319.1,199.6 L320.0,200.1 L320.7,201.1 L321.6,202.5 L322.4,202.8 L323.4,203.3 L324.4,203.8 L325.5,203.8 L326.0,204.2" fill="none" stroke="#111" stroke-width="0.9" stroke-linejoin="miter" stroke-miterlimit="3"/><path d="M285.6,198.5 L286.2,201.4 L287.0,202.0 L287.9,201.4 L288.9,198.0 L289.6,198.4 L290.3,194.1 L291.2,190.5 L291.8,188.2 L292.5,184.1 L293.4,180.3 L294.1,181.4 L294.9,177.9 L295.6,170.1 L296.3,167.5 L297.0,169.1 L297.8,168.0 L298.8,172.0 L299.6,171.0 L300.4,170.4 L301.1,165.0 L302.1,163.4 L302.8,167.2 L303.5,171.3 L304.3,175.4 L305.0,178.4 L305.9,182.7 L306.6,185.7 L307.5,184.2 L308.2,188.8 L309.1,187.8 L309.8,191.9 L310.5,191.1 L311.2,194.5 L312.1,194.2 L312.8,194.9 L313.5,198.2 L314.4,198.1 L315.1,197.9 L315.7,198.4 L316.6,198.4 L317.3,200.0 L318.2,199.8 L318.9,200.0 L319.8,201.7 L320.5,200.4 L321.1,200.6 L322.0,202.5 L323.0,201.7 L323.8,202.6 L324.7,203.3 L325.5,203.4 L326.3,202.5 L327.0,203.6 L327.9,203.2 L328.7,203.8 L329.5,203.1 L330.3,204.1 L331.2,203.4 L332.1,204.1 L332.8,203.7 L333.7,204.6 L334.6,203.8 L335.3,204.6 L336.2,204.7 L337.0,205.0 L338.0,204.1 L338.9,205.1 L339.7,204.5 L340.3,205.2 L341.1,204.6 L341.8,205.1 L342.4,204.6 L343.4,205.3 L344.3,204.5 L345.0,205.1 L345.9,204.5 L346.8,205.2 L347.7,204.6 L348.5,205.3 L349.2,204.5 L349.8,205.3 L350.0,205.0" fill="none" stroke="#000" stroke-width="2.2" stroke-linejoin="miter" stroke-miterlimit="3" stroke-linecap="round"/><path d="M284.80,141.40 H377.50 V205.60" fill="none" stroke="#222" stroke-width="0.9"/><line x1="284.80" y1="141.00" x2="284.80" y2="206.60" stroke="#000" stroke-width="1.7"/><line x1="283.80" y1="205.60" x2="377.90" y2="205.60" stroke="#000" stroke-width="1.8"/><path d="M280.65,205.60h3.4M280.65,192.76h3.4M280.65,179.92h3.4M280.65,167.08h3.4M280.65,154.24h3.4M280.65,141.40h3.4" stroke="#000" stroke-width="1.1" fill="none"/><path d="M281.75,199.18h2.3M281.75,186.34h2.3M281.75,173.50h2.3M281.75,160.66h2.3M281.75,147.82h2.3" stroke="#000" stroke-width="0.9" fill="none"/><path d="M282.45,204.32h1.6M282.45,203.03h1.6M282.45,201.75h1.6M282.45,200.46h1.6M282.45,197.90h1.6M282.45,196.61h1.6M282.45,195.33h1.6M282.45,194.04h1.6M282.45,191.48h1.6M282.45,190.19h1.6M282.45,188.91h1.6M282.45,187.62h1.6M282.45,185.06h1.6M282.45,183.77h1.6M282.45,182.49h1.6M282.45,181.20h1.6M282.45,178.64h1.6M282.45,177.35h1.6M282.45,176.07h1.6M282.45,174.78h1.6M282.45,172.22h1.6M282.45,170.93h1.6M282.45,169.65h1.6M282.45,168.36h1.6M282.45,165.80h1.6M282.45,164.51h1.6M282.45,163.23h1.6M282.45,161.94h1.6M282.45,159.38h1.6M282.45,158.09h1.6M282.45,156.81h1.6M282.45,155.52h1.6M282.45,152.96h1.6M282.45,151.67h1.6M282.45,150.39h1.6M282.45,149.10h1.6M282.45,146.54h1.6M282.45,145.25h1.6M282.45,143.97h1.6M282.45,142.68h1.6" stroke="#000" stroke-width="0.75" fill="none"/><path d="M284.80,206.20v2.9M307.98,206.20v2.9M331.15,206.20v2.9M354.32,206.20v2.9M377.50,206.20v2.9" stroke="#000" stroke-width="1.1" fill="none"/><path d="M291.78,206.20v1.8M295.86,206.20v1.8M298.75,206.20v1.8M301.00,206.20v1.8M302.83,206.20v1.8M304.39,206.20v1.8M305.73,206.20v1.8M306.91,206.20v1.8M314.95,206.20v1.8M319.03,206.20v1.8M321.93,206.20v1.8M324.17,206.20v1.8M326.01,206.20v1.8M327.56,206.20v1.8M328.90,206.20v1.8M330.09,206.20v1.8M338.13,206.20v1.8M342.21,206.20v1.8M345.10,206.20v1.8M347.35,206.20v1.8M349.18,206.20v1.8M350.74,206.20v1.8M352.08,206.20v1.8M353.26,206.20v1.8M361.30,206.20v1.8M365.38,206.20v1.8M368.28,206.20v1.8M370.52,206.20v1.8M372.36,206.20v1.8M373.91,206.20v1.8M375.25,206.20v1.8M376.44,206.20v1.8" stroke="#000" stroke-width="0.8" fill="none"/><text transform="translate(278.35,204.96) rotate(-90) scale(1.12,1)" text-anchor="middle" class="yt">0</text><text transform="translate(278.35,192.37) rotate(-90) scale(1.12,1)" text-anchor="middle" class="yt">10</text><text transform="translate(278.35,179.79) rotate(-90) scale(1.12,1)" text-anchor="middle" class="yt">20</text><text transform="translate(278.35,167.21) rotate(-90) scale(1.12,1)" text-anchor="middle" class="yt">30</text><text transform="translate(278.35,154.63) rotate(-90) scale(1.12,1)" text-anchor="middle" class="yt">40</text><text transform="translate(278.35,142.04) rotate(-90) scale(1.12,1)" text-anchor="middle" class="yt">50</text><text transform="translate(269.50,174.78) rotate(-90)" text-anchor="middle" class="ct">Counts</text><text x="286.10" y="217.40" text-anchor="end" class="xt">10</text><text x="286.00" y="212.90" text-anchor="start" class="xs">0</text><text x="309.28" y="217.40" text-anchor="end" class="xt">10</text><text x="309.18" y="212.90" text-anchor="start" class="xs">1</text><text x="332.45" y="217.40" text-anchor="end" class="xt">10</text><text x="332.35" y="212.90" text-anchor="start" class="xs">2</text><text x="355.62" y="217.40" text-anchor="end" class="xt">10</text><text x="355.52" y="212.90" text-anchor="start" class="xs">3</text><text x="378.80" y="217.40" text-anchor="end" class="xt">10</text><text x="378.70" y="212.90" text-anchor="start" class="xs">4</text><text x="299.10" y="241.80" textLength="56.1" lengthAdjust="spacingAndGlyphs" class="lb">E-selectin</text></g>
<g><path d="M420.3,205.8 L420.3,185.0 L421.2,182.1 L422.1,176.5 L422.9,175.3 L424.0,172.3 L424.8,168.7 L425.7,169.3 L426.8,173.1 L427.7,173.1 L428.4,178.8 L429.3,179.1 L430.3,183.6 L431.2,180.1 L432.2,180.0 L433.0,182.2 L434.1,186.9 L434.8,187.9 L435.8,189.7 L436.5,188.6 L437.5,191.6 L438.5,192.8 L439.2,194.8 L440.0,194.0 L440.8,196.0 L441.8,197.0 L442.8,199.0 L443.8,198.9 L444.7,200.8 L445.8,201.5 L446.8,201.8 L447.8,201.7 L448.9,202.9 L449.8,203.0 L450.9,202.7 L451.7,203.8 L452.4,203.1 L453.3,203.4 L454.1,204.2 L455.1,204.0 L455.9,204.6 L456.8,204.6 L457.9,204.8 L458.8,205.0 L459.8,205.1 L460.0,204.8 L460.0,205.8Z" fill="#b5b5b5" stroke="none"/><path d="M420.3,185.0 L421.2,182.1 L422.1,176.5 L422.9,175.3 L424.0,172.3 L424.8,168.7 L425.7,169.3 L426.8,173.1 L427.7,173.1 L428.4,178.8 L429.3,179.1 L430.3,183.6 L431.2,180.1 L432.2,180.0 L433.0,182.2 L434.1,186.9 L434.8,187.9 L435.8,189.7 L436.5,188.6 L437.5,191.6 L438.5,192.8 L439.2,194.8 L440.0,194.0 L440.8,196.0 L441.8,197.0 L442.8,199.0 L443.8,198.9 L444.7,200.8 L445.8,201.5 L446.8,201.8 L447.8,201.7 L448.9,202.9 L449.8,203.0 L450.9,202.7 L451.7,203.8 L452.4,203.1 L453.3,203.4 L454.1,204.2 L455.1,204.0 L455.9,204.6 L456.8,204.6 L457.9,204.8 L458.8,205.0 L459.8,205.1 L460.0,204.8" fill="none" stroke="#111" stroke-width="1.2" stroke-linejoin="miter" stroke-miterlimit="3"/><path d="M420.3,203.8 L421.0,203.0 L421.9,199.6 L422.8,197.0 L423.6,195.2 L424.3,193.7 L424.9,189.9 L425.7,187.6 L426.3,181.9 L427.2,179.9 L427.9,167.2 L428.9,165.0 L429.6,164.0 L430.3,166.2 L431.0,167.8 L432.0,166.2 L432.9,161.0 L433.7,168.0 L434.5,161.9 L435.3,167.1 L436.1,168.5 L437.0,172.9 L437.8,175.7 L438.7,182.4 L439.4,180.0 L440.3,182.4 L441.2,186.5 L441.9,185.0 L442.9,189.9 L443.6,191.8 L444.5,193.3 L445.4,197.8 L446.2,198.1 L447.2,197.2 L448.1,198.3 L448.8,198.5 L449.5,201.0 L450.2,201.2 L451.1,200.0 L451.8,202.1 L452.7,201.1 L453.5,202.2 L454.1,202.4 L455.1,202.0 L456.0,201.7 L456.9,202.9 L457.9,200.8 L458.5,201.1 L459.3,201.7 L460.1,202.1 L460.7,202.4 L461.6,203.5 L462.5,204.0 L463.2,203.9 L464.1,203.3 L464.9,204.0 L465.5,204.1 L466.3,204.3 L466.9,204.1 L467.9,203.4 L468.8,203.5 L469.7,204.8 L470.5,204.8 L471.1,203.9 L471.9,204.1 L472.6,204.6 L473.3,204.0 L474.2,204.7 L474.9,204.2 L475.7,204.1 L476.5,204.1 L477.4,204.1 L478.3,204.1 L479.3,205.1 L480.1,204.1 L480.9,203.9 L481.6,203.4 L482.4,203.2 L483.1,203.1 L483.8,204.8 L484.6,204.8 L485.3,205.1 L486.0,205.1 L486.9,204.5 L487.0,205.0" fill="none" stroke="#000" stroke-width="2.3" stroke-linejoin="miter" stroke-miterlimit="3" stroke-linecap="round"/><path d="M419.30,142.00 H509.40 V205.80" fill="none" stroke="#222" stroke-width="0.9"/><line x1="419.30" y1="141.60" x2="419.30" y2="206.80" stroke="#000" stroke-width="2.0"/><line x1="418.30" y1="205.80" x2="509.80" y2="205.80" stroke="#000" stroke-width="1.8"/><path d="M415.00,205.80h3.4M415.00,193.04h3.4M415.00,180.28h3.4M415.00,167.52h3.4M415.00,154.76h3.4M415.00,142.00h3.4" stroke="#000" stroke-width="1.1" fill="none"/><path d="M416.10,199.42h2.3M416.10,186.66h2.3M416.10,173.90h2.3M416.10,161.14h2.3M416.10,148.38h2.3" stroke="#000" stroke-width="0.9" fill="none"/><path d="M416.80,204.52h1.6M416.80,203.25h1.6M416.80,201.97h1.6M416.80,200.70h1.6M416.80,198.14h1.6M416.80,196.87h1.6M416.80,195.59h1.6M416.80,194.32h1.6M416.80,191.76h1.6M416.80,190.49h1.6M416.80,189.21h1.6M416.80,187.94h1.6M416.80,185.38h1.6M416.80,184.11h1.6M416.80,182.83h1.6M416.80,181.56h1.6M416.80,179.00h1.6M416.80,177.73h1.6M416.80,176.45h1.6M416.80,175.18h1.6M416.80,172.62h1.6M416.80,171.35h1.6M416.80,170.07h1.6M416.80,168.80h1.6M416.80,166.24h1.6M416.80,164.97h1.6M416.80,163.69h1.6M416.80,162.42h1.6M416.80,159.86h1.6M416.80,158.59h1.6M416.80,157.31h1.6M416.80,156.04h1.6M416.80,153.48h1.6M416.80,152.21h1.6M416.80,150.93h1.6M416.80,149.66h1.6M416.80,147.10h1.6M416.80,145.83h1.6M416.80,144.55h1.6M416.80,143.28h1.6" stroke="#000" stroke-width="0.75" fill="none"/><path d="M419.30,206.40v2.9M441.82,206.40v2.9M464.35,206.40v2.9M486.88,206.40v2.9M509.40,206.40v2.9" stroke="#000" stroke-width="1.1" fill="none"/><path d="M426.08,206.40v1.8M430.05,206.40v1.8M432.86,206.40v1.8M435.04,206.40v1.8M436.83,206.40v1.8M438.34,206.40v1.8M439.64,206.40v1.8M440.79,206.40v1.8M448.61,206.40v1.8M452.57,206.40v1.8M455.39,206.40v1.8M457.57,206.40v1.8M459.35,206.40v1.8M460.86,206.40v1.8M462.17,206.40v1.8M463.32,206.40v1.8M471.13,206.40v1.8M475.10,206.40v1.8M477.91,206.40v1.8M480.09,206.40v1.8M481.88,206.40v1.8M483.39,206.40v1.8M484.69,206.40v1.8M485.84,206.40v1.8M493.66,206.40v1.8M497.62,206.40v1.8M500.44,206.40v1.8M502.62,206.40v1.8M504.40,206.40v1.8M505.91,206.40v1.8M507.22,206.40v1.8M508.37,206.40v1.8" stroke="#000" stroke-width="0.8" fill="none"/><text transform="translate(412.70,205.16) rotate(-90) scale(1.12,1)" text-anchor="middle" class="yt">0</text><text transform="translate(412.70,192.66) rotate(-90) scale(1.12,1)" text-anchor="middle" class="yt">10</text><text transform="translate(412.70,180.15) rotate(-90) scale(1.12,1)" text-anchor="middle" class="yt">20</text><text transform="translate(412.70,167.65) rotate(-90) scale(1.12,1)" text-anchor="middle" class="yt">30</text><text transform="translate(412.70,155.14) rotate(-90) scale(1.12,1)" text-anchor="middle" class="yt">40</text><text transform="translate(412.70,142.64) rotate(-90) scale(1.12,1)" text-anchor="middle" class="yt">50</text><text transform="translate(404.00,175.18) rotate(-90)" text-anchor="middle" class="ct">Counts</text><text x="420.60" y="217.60" text-anchor="end" class="xt">10</text><text x="420.50" y="213.10" text-anchor="start" class="xs">0</text><text x="443.12" y="217.60" text-anchor="end" class="xt">10</text><text x="443.02" y="213.10" text-anchor="start" class="xs">1</text><text x="465.65" y="217.60" text-anchor="end" class="xt">10</text><text x="465.55" y="213.10" text-anchor="start" class="xs">2</text><text x="488.18" y="217.60" text-anchor="end" class="xt">10</text><text x="488.07" y="213.10" text-anchor="start" class="xs">3</text><text x="510.70" y="217.60" text-anchor="end" class="xt">10</text><text x="510.60" y="213.10" text-anchor="start" class="xs">4</text><text x="429.10" y="242.00" textLength="56.1" lengthAdjust="spacingAndGlyphs" class="lb">P-selectin</text></g>
<g><path d="M24.0,342.2 L24.0,339.6 L24.7,340.2 L25.5,341.2 L26.5,340.8 L27.3,339.5 L28.1,340.9 L29.2,341.1 L30.3,340.0 L31.1,340.2 L31.9,341.7 L33.0,340.2 L33.8,340.1 L34.9,341.1 L35.7,340.7 L36.4,340.0 L37.2,340.3 L38.1,341.1 L39.2,340.9 L40.1,339.4 L40.9,341.0 L42.0,340.9 L42.9,340.2 L43.9,340.1 L44.6,341.6 L45.6,340.5 L46.7,340.1 L47.8,341.2 L48.7,340.9 L49.4,339.5 L50.2,340.6 L51.3,341.6 L52.4,340.3 L53.4,339.6 L54.4,339.4 L55.1,339.2 L56.2,338.7 L57.1,338.1 L57.9,337.9 L58.6,336.6 L59.3,336.1 L60.2,334.6 L61.1,334.2 L61.9,333.3 L62.6,332.9 L63.6,331.5 L64.7,331.9 L65.6,331.3 L66.4,330.7 L67.4,328.2 L68.2,327.6 L68.9,326.1 L69.9,325.8 L70.6,323.6 L71.6,320.5 L72.6,316.4 L73.6,309.6 L74.5,301.8 L75.6,309.3 L76.4,309.4 L77.1,310.2 L77.9,307.1 L79.0,304.7 L79.9,299.4 L80.7,307.4 L81.4,308.7 L82.3,312.5 L83.3,318.7 L84.1,319.5 L84.8,319.1 L85.5,321.0 L86.6,325.8 L87.5,327.7 L88.5,330.4 L89.5,332.8 L90.4,334.7 L91.5,337.5 L92.4,338.1 L93.1,339.4 L94.0,340.2 L95.1,341.1 L96.1,340.9 L96.9,341.3 L97.6,341.1 L98.6,341.6 L99.3,341.2 L100.0,341.6 L100.0,341.5 L100.0,342.2Z" fill="#b5b5b5" stroke="none"/><path d="M24.0,339.6 L24.7,340.2 L25.5,341.2 L26.5,340.8 L27.3,339.5 L28.1,340.9 L29.2,341.1 L30.3,340.0 L31.1,340.2 L31.9,341.7 L33.0,340.2 L33.8,340.1 L34.9,341.1 L35.7,340.7 L36.4,340.0 L37.2,340.3 L38.1,341.1 L39.2,340.9 L40.1,339.4 L40.9,341.0 L42.0,340.9 L42.9,340.2 L43.9,340.1 L44.6,341.6 L45.6,340.5 L46.7,340.1 L47.8,341.2 L48.7,340.9 L49.4,339.5 L50.2,340.6 L51.3,341.6 L52.4,340.3 L53.4,339.6 L54.4,339.4 L55.1,339.2 L56.2,338.7 L57.1,338.1 L57.9,337.9 L58.6,336.6 L59.3,336.1 L60.2,334.6 L61.1,334.2 L61.9,333.3 L62.6,332.9 L63.6,331.5 L64.7,331.9 L65.6,331.3 L66.4,330.7 L67.4,328.2 L68.2,327.6 L68.9,326.1 L69.9,325.8 L70.6,323.6 L71.6,320.5 L72.6,316.4 L73.6,309.6 L74.5,301.8 L75.6,309.3 L76.4,309.4 L77.1,310.2 L77.9,307.1 L79.0,304.7 L79.9,299.4 L80.7,307.4 L81.4,308.7 L82.3,312.5 L83.3,318.7 L84.1,319.5 L84.8,319.1 L85.5,321.0 L86.6,325.8 L87.5,327.7 L88.5,330.4 L89.5,332.8 L90.4,334.7 L91.5,337.5 L92.4,338.1 L93.1,339.4 L94.0,340.2 L95.1,341.1 L96.1,340.9 L96.9,341.3 L97.6,341.1 L98.6,341.6 L99.3,341.2 L100.0,341.6 L100.0,341.5" fill="none" stroke="#111" stroke-width="1.2" stroke-linejoin="miter" stroke-miterlimit="3"/><path d="M22.2,336.8 L23.0,339.1 L23.8,336.6 L24.7,334.6 L25.5,329.5 L26.3,328.3 L27.2,323.4 L27.9,323.6 L28.6,318.0 L29.5,316.8 L30.5,310.2 L31.2,305.5 L32.1,305.6 L32.8,305.1 L33.4,304.3 L34.1,310.7 L35.0,307.6 L35.7,310.8 L36.6,307.5 L37.6,308.7 L38.4,307.1 L39.1,310.3 L40.0,311.8 L40.7,317.2 L41.4,318.5 L42.4,320.3 L43.3,318.6 L44.1,325.2 L44.7,325.4 L45.6,326.9 L46.3,328.3 L47.1,331.4 L48.0,330.3 L48.9,332.5 L49.7,332.0 L50.3,335.0 L51.3,336.1 L52.0,336.1 L52.9,336.8 L53.7,338.0 L54.6,338.8 L55.3,338.2 L56.0,338.7 L56.8,338.6 L57.4,337.2 L58.2,336.8 L59.0,336.3 L59.6,336.9 L60.3,337.6 L61.3,339.3 L62.2,339.2 L62.8,340.3 L63.8,340.8 L64.6,340.9 L65.6,340.8 L66.5,340.8 L67.2,340.6 L68.2,340.5 L68.9,341.3 L69.8,340.7 L70.5,340.6 L71.5,340.9 L72.3,341.0 L73.2,341.4 L74.0,341.3" fill="none" stroke="#000" stroke-width="2.0" stroke-linejoin="miter" stroke-miterlimit="3" stroke-linecap="round"/><path d="M20.80,277.20 H111.20 V342.20" fill="none" stroke="#222" stroke-width="0.9"/><line x1="20.80" y1="276.80" x2="20.80" y2="343.20" stroke="#000" stroke-width="1.4"/><line x1="19.80" y1="342.20" x2="111.60" y2="342.20" stroke="#000" stroke-width="1.8"/><path d="M16.80,342.20h3.4M16.80,329.20h3.4M16.80,316.20h3.4M16.80,303.20h3.4M16.80,290.20h3.4M16.80,277.20h3.4" stroke="#000" stroke-width="1.1" fill="none"/><path d="M17.90,335.70h2.3M17.90,322.70h2.3M17.90,309.70h2.3M17.90,296.70h2.3M17.90,283.70h2.3" stroke="#000" stroke-width="0.9" fill="none"/><path d="M18.60,340.90h1.6M18.60,339.60h1.6M18.60,338.30h1.6M18.60,337.00h1.6M18.60,334.40h1.6M18.60,333.10h1.6M18.60,331.80h1.6M18.60,330.50h1.6M18.60,327.90h1.6M18.60,326.60h1.6M18.60,325.30h1.6M18.60,324.00h1.6M18.60,321.40h1.6M18.60,320.10h1.6M18.60,318.80h1.6M18.60,317.50h1.6M18.60,314.90h1.6M18.60,313.60h1.6M18.60,312.30h1.6M18.60,311.00h1.6M18.60,308.40h1.6M18.60,307.10h1.6M18.60,305.80h1.6M18.60,304.50h1.6M18.60,301.90h1.6M18.60,300.60h1.6M18.60,299.30h1.6M18.60,298.00h1.6M18.60,295.40h1.6M18.60,294.10h1.6M18.60,292.80h1.6M18.60,291.50h1.6M18.60,288.90h1.6M18.60,287.60h1.6M18.60,286.30h1.6M18.60,285.00h1.6M18.60,282.40h1.6M18.60,281.10h1.6M18.60,279.80h1.6M18.60,278.50h1.6" stroke="#000" stroke-width="0.75" fill="none"/><path d="M20.80,342.80v2.9M43.40,342.80v2.9M66.00,342.80v2.9M88.60,342.80v2.9M111.20,342.80v2.9" stroke="#000" stroke-width="1.1" fill="none"/><path d="M27.60,342.80v1.8M31.58,342.80v1.8M34.41,342.80v1.8M36.60,342.80v1.8M38.39,342.80v1.8M39.90,342.80v1.8M41.21,342.80v1.8M42.37,342.80v1.8M50.20,342.80v1.8M54.18,342.80v1.8M57.01,342.80v1.8M59.20,342.80v1.8M60.99,342.80v1.8M62.50,342.80v1.8M63.81,342.80v1.8M64.97,342.80v1.8M72.80,342.80v1.8M76.78,342.80v1.8M79.61,342.80v1.8M81.80,342.80v1.8M83.59,342.80v1.8M85.10,342.80v1.8M86.41,342.80v1.8M87.57,342.80v1.8M95.40,342.80v1.8M99.38,342.80v1.8M102.21,342.80v1.8M104.40,342.80v1.8M106.19,342.80v1.8M107.70,342.80v1.8M109.01,342.80v1.8M110.17,342.80v1.8" stroke="#000" stroke-width="0.8" fill="none"/><text transform="translate(14.50,341.55) rotate(-90) scale(1.12,1)" text-anchor="middle" class="yt">0</text><text transform="translate(14.50,328.81) rotate(-90) scale(1.12,1)" text-anchor="middle" class="yt">10</text><text transform="translate(14.50,316.07) rotate(-90) scale(1.12,1)" text-anchor="middle" class="yt">20</text><text transform="translate(14.50,303.33) rotate(-90) scale(1.12,1)" text-anchor="middle" class="yt">30</text><text transform="translate(14.50,290.59) rotate(-90) scale(1.12,1)" text-anchor="middle" class="yt">40</text><text transform="translate(14.50,277.85) rotate(-90) scale(1.12,1)" text-anchor="middle" class="yt">50</text><text transform="translate(5.50,311.00) rotate(-90)" text-anchor="middle" class="ct">Counts</text><text x="22.10" y="354.00" text-anchor="end" class="xt">10</text><text x="22.00" y="349.50" text-anchor="start" class="xs">0</text><text x="44.70" y="354.00" text-anchor="end" class="xt">10</text><text x="44.60" y="349.50" text-anchor="start" class="xs">1</text><text x="67.30" y="354.00" text-anchor="end" class="xt">10</text><text x="67.20" y="349.50" text-anchor="start" class="xs">2</text><text x="89.90" y="354.00" text-anchor="end" class="xt">10</text><text x="89.80" y="349.50" text-anchor="start" class="xs">3</text><text x="112.50" y="354.00" text-anchor="end" class="xt">10</text><text x="112.40" y="349.50" text-anchor="start" class="xs">4</text><text x="47.00" y="378.50" textLength="31.7" lengthAdjust="spacingAndGlyphs" class="lb">CD13</text></g>
<g><path d="M157.0,343.9 L157.0,343.0 L157.9,342.1 L159.0,342.0 L159.8,342.1 L160.8,343.1 L161.5,341.8 L162.5,341.4 L163.3,342.3 L164.1,341.2 L164.8,342.3 L165.8,340.9 L166.6,341.9 L167.6,341.9 L168.5,341.4 L169.5,341.8 L170.3,340.5 L171.0,341.6 L172.0,341.3 L172.9,339.1 L173.7,340.9 L174.7,340.0 L175.4,340.6 L176.4,338.6 L177.4,339.9 L178.5,338.8 L179.5,339.2 L180.4,337.0 L181.5,338.0 L182.2,335.7 L183.0,335.7 L184.1,337.4 L184.8,334.6 L186.0,333.6 L186.7,335.8 L187.4,331.5 L188.2,334.2 L189.0,333.3 L189.9,331.9 L191.0,334.3 L192.1,334.3 L192.9,334.6 L193.6,333.7 L194.5,329.5 L195.5,331.8 L196.4,330.7 L197.2,330.2 L198.0,325.9 L198.8,327.8 L199.9,329.4 L200.9,328.2 L202.0,328.0 L203.1,329.7 L204.0,327.4 L204.9,325.4 L206.0,328.5 L206.8,327.8 L207.9,324.0 L208.9,323.0 L209.8,326.3 L210.5,326.0 L211.3,325.9 L212.3,326.5 L213.4,322.9 L214.2,326.1 L215.3,322.9 L216.2,325.9 L217.3,322.8 L218.2,324.1 L218.9,322.9 L220.0,328.2 L220.9,326.4 L221.7,327.5 L222.5,322.9 L223.3,319.1 L224.4,321.7 L225.5,324.3 L226.3,321.3 L227.1,321.8 L227.9,320.9 L228.9,325.6 L230.0,327.1 L230.7,327.0 L231.6,325.6 L232.6,331.1 L233.7,328.1 L234.7,329.8 L235.5,331.0 L236.5,331.6 L237.2,335.1 L237.9,337.5 L239.0,338.8 L240.1,339.0 L241.2,338.0 L242.0,340.5 L242.9,338.8 L243.7,340.9 L244.7,340.8 L245.6,340.9 L245.8,341.7 L245.8,343.9Z" fill="#b5b5b5" stroke="none"/><path d="M157.0,343.0 L157.9,342.1 L159.0,342.0 L159.8,342.1 L160.8,343.1 L161.5,341.8 L162.5,341.4 L163.3,342.3 L164.1,341.2 L164.8,342.3 L165.8,340.9 L166.6,341.9 L167.6,341.9 L168.5,341.4 L169.5,341.8 L170.3,340.5 L171.0,341.6 L172.0,341.3 L172.9,339.1 L173.7,340.9 L174.7,340.0 L175.4,340.6 L176.4,338.6 L177.4,339.9 L178.5,338.8 L179.5,339.2 L180.4,337.0 L181.5,338.0 L182.2,335.7 L183.0,335.7 L184.1,337.4 L184.8,334.6 L186.0,333.6 L186.7,335.8 L187.4,331.5 L188.2,334.2 L189.0,333.3 L189.9,331.9 L191.0,334.3 L192.1,334.3 L192.9,334.6 L193.6,333.7 L194.5,329.5 L195.5,331.8 L196.4,330.7 L197.2,330.2 L198.0,325.9 L198.8,327.8 L199.9,329.4 L200.9,328.2 L202.0,328.0 L203.1,329.7 L204.0,327.4 L204.9,325.4 L206.0,328.5 L206.8,327.8 L207.9,324.0 L208.9,323.0 L209.8,326.3 L210.5,326.0 L211.3,325.9 L212.3,326.5 L213.4,322.9 L214.2,326.1 L215.3,322.9 L216.2,325.9 L217.3,322.8 L218.2,324.1 L218.9,322.9 L220.0,328.2 L220.9,326.4 L221.7,327.5 L222.5,322.9 L223.3,319.1 L224.4,321.7 L225.5,324.3 L226.3,321.3 L227.1,321.8 L227.9,320.9 L228.9,325.6 L230.0,327.1 L230.7,327.0 L231.6,325.6 L232.6,331.1 L233.7,328.1 L234.7,329.8 L235.5,331.0 L236.5,331.6 L237.2,335.1 L237.9,337.5 L239.0,338.8 L240.1,339.0 L241.2,338.0 L242.0,340.5 L242.9,338.8 L243.7,340.9 L244.7,340.8 L245.6,340.9 L245.8,341.7" fill="none" stroke="#111" stroke-width="1.2" stroke-linejoin="miter" stroke-miterlimit="3"/><path d="M155.5,332.0 L156.2,328.3 L157.0,321.0 L157.9,318.8 L158.7,314.8 L159.7,316.8 L160.3,317.0 L161.2,315.3 L162.0,316.3 L162.7,317.8 L163.5,315.1 L164.3,313.0 L165.2,306.2 L166.1,306.2 L167.0,308.4 L167.8,315.4 L168.8,310.7 L169.5,314.4 L170.4,310.1 L171.2,316.7 L172.1,317.1 L173.1,320.7 L174.1,318.8 L174.7,322.4 L175.5,324.0 L176.4,324.2 L177.3,328.4 L178.0,328.4 L178.6,327.0 L179.2,326.9 L180.0,327.2 L180.7,328.2 L181.6,332.2 L182.5,334.8 L183.4,334.3 L184.1,334.4 L184.8,335.0 L185.8,337.5 L186.5,338.8 L187.4,339.4 L188.4,338.4 L189.3,338.7 L190.2,339.6 L190.9,340.5 L191.6,340.1 L192.6,341.5 L193.2,341.0 L193.9,341.6 L194.8,342.5 L195.8,342.9 L196.4,341.9 L197.4,342.2 L198.2,342.4 L198.9,343.3 L199.8,342.6 L200.0,343.0" fill="none" stroke="#000" stroke-width="2.3" stroke-linejoin="miter" stroke-miterlimit="3" stroke-linecap="round"/><rect x="154.10" y="304.06" width="2.3" height="39.84" fill="#000"/><path d="M153.80,277.50 H246.20 V343.90" fill="none" stroke="#222" stroke-width="0.9"/><line x1="153.80" y1="277.10" x2="153.80" y2="344.90" stroke="#000" stroke-width="2.4"/><line x1="152.80" y1="343.90" x2="246.60" y2="343.90" stroke="#000" stroke-width="1.8"/><path d="M149.30,343.90h3.4M149.30,330.62h3.4M149.30,317.34h3.4M149.30,304.06h3.4M149.30,290.78h3.4M149.30,277.50h3.4" stroke="#000" stroke-width="1.1" fill="none"/><path d="M150.40,337.26h2.3M150.40,323.98h2.3M150.40,310.70h2.3M150.40,297.42h2.3M150.40,284.14h2.3" stroke="#000" stroke-width="0.9" fill="none"/><path d="M151.10,342.57h1.6M151.10,341.24h1.6M151.10,339.92h1.6M151.10,338.59h1.6M151.10,335.93h1.6M151.10,334.60h1.6M151.10,333.28h1.6M151.10,331.95h1.6M151.10,329.29h1.6M151.10,327.96h1.6M151.10,326.64h1.6M151.10,325.31h1.6M151.10,322.65h1.6M151.10,321.32h1.6M151.10,320.00h1.6M151.10,318.67h1.6M151.10,316.01h1.6M151.10,314.68h1.6M151.10,313.36h1.6M151.10,312.03h1.6M151.10,309.37h1.6M151.10,308.04h1.6M151.10,306.72h1.6M151.10,305.39h1.6M151.10,302.73h1.6M151.10,301.40h1.6M151.10,300.08h1.6M151.10,298.75h1.6M151.10,296.09h1.6M151.10,294.76h1.6M151.10,293.44h1.6M151.10,292.11h1.6M151.10,289.45h1.6M151.10,288.12h1.6M151.10,286.80h1.6M151.10,285.47h1.6M151.10,282.81h1.6M151.10,281.48h1.6M151.10,280.16h1.6M151.10,278.83h1.6" stroke="#000" stroke-width="0.75" fill="none"/><path d="M153.80,344.50v2.9M176.90,344.50v2.9M200.00,344.50v2.9M223.10,344.50v2.9M246.20,344.50v2.9" stroke="#000" stroke-width="1.1" fill="none"/><path d="M160.75,344.50v1.8M164.82,344.50v1.8M167.71,344.50v1.8M169.95,344.50v1.8M171.78,344.50v1.8M173.32,344.50v1.8M174.66,344.50v1.8M175.84,344.50v1.8M183.85,344.50v1.8M187.92,344.50v1.8M190.81,344.50v1.8M193.05,344.50v1.8M194.88,344.50v1.8M196.42,344.50v1.8M197.76,344.50v1.8M198.94,344.50v1.8M206.95,344.50v1.8M211.02,344.50v1.8M213.91,344.50v1.8M216.15,344.50v1.8M217.98,344.50v1.8M219.52,344.50v1.8M220.86,344.50v1.8M222.04,344.50v1.8M230.05,344.50v1.8M234.12,344.50v1.8M237.01,344.50v1.8M239.25,344.50v1.8M241.08,344.50v1.8M242.62,344.50v1.8M243.96,344.50v1.8M245.14,344.50v1.8" stroke="#000" stroke-width="0.8" fill="none"/><text transform="translate(147.00,343.24) rotate(-90) scale(1.12,1)" text-anchor="middle" class="yt">0</text><text transform="translate(147.00,330.22) rotate(-90) scale(1.12,1)" text-anchor="middle" class="yt">10</text><text transform="translate(147.00,317.21) rotate(-90) scale(1.12,1)" text-anchor="middle" class="yt">20</text><text transform="translate(147.00,304.19) rotate(-90) scale(1.12,1)" text-anchor="middle" class="yt">30</text><text transform="translate(147.00,291.18) rotate(-90) scale(1.12,1)" text-anchor="middle" class="yt">40</text><text transform="translate(147.00,278.16) rotate(-90) scale(1.12,1)" text-anchor="middle" class="yt">50</text><text transform="translate(138.50,312.03) rotate(-90)" text-anchor="middle" class="ct">Counts</text><text x="155.10" y="355.70" text-anchor="end" class="xt">10</text><text x="155.00" y="351.20" text-anchor="start" class="xs">0</text><text x="178.20" y="355.70" text-anchor="end" class="xt">10</text><text x="178.10" y="351.20" text-anchor="start" class="xs">1</text><text x="201.30" y="355.70" text-anchor="end" class="xt">10</text><text x="201.20" y="351.20" text-anchor="start" class="xs">2</text><text x="224.40" y="355.70" text-anchor="end" class="xt">10</text><text x="224.30" y="351.20" text-anchor="start" class="xs">3</text><text x="247.50" y="355.70" text-anchor="end" class="xt">10</text><text x="247.40" y="351.20" text-anchor="start" class="xs">4</text><text x="180.50" y="379.00" textLength="31.1" lengthAdjust="spacingAndGlyphs" class="lb">Sca-1</text></g>
<g><path d="M290.5,342.9 L290.5,335.0 L291.5,329.3 L292.4,326.1 L293.2,324.2 L294.0,322.1 L294.8,320.8 L295.8,319.1 L296.9,319.3 L297.6,316.4 L298.7,316.3 L299.4,314.6 L300.2,315.9 L300.9,315.2 L302.0,315.1 L303.0,314.8 L304.1,316.5 L305.1,320.3 L305.8,321.5 L306.7,320.8 L307.5,322.5 L308.6,326.0 L309.5,327.2 L310.6,327.1 L311.7,328.5 L312.7,331.2 L313.5,331.4 L314.3,332.4 L315.3,334.2 L316.3,334.3 L317.2,336.1 L317.9,336.8 L318.7,337.4 L319.7,337.9 L320.4,338.4 L321.3,339.2 L322.0,339.9 L322.7,339.7 L323.7,340.6 L324.5,340.5 L325.0,340.9 L325.0,342.9Z" fill="#b5b5b5" stroke="none"/><path d="M290.5,335.0 L291.5,329.3 L292.4,326.1 L293.2,324.2 L294.0,322.1 L294.8,320.8 L295.8,319.1 L296.9,319.3 L297.6,316.4 L298.7,316.3 L299.4,314.6 L300.2,315.9 L300.9,315.2 L302.0,315.1 L303.0,314.8 L304.1,316.5 L305.1,320.3 L305.8,321.5 L306.7,320.8 L307.5,322.5 L308.6,326.0 L309.5,327.2 L310.6,327.1 L311.7,328.5 L312.7,331.2 L313.5,331.4 L314.3,332.4 L315.3,334.2 L316.3,334.3 L317.2,336.1 L317.9,336.8 L318.7,337.4 L319.7,337.9 L320.4,338.4 L321.3,339.2 L322.0,339.9 L322.7,339.7 L323.7,340.6 L324.5,340.5 L325.0,340.9" fill="none" stroke="#111" stroke-width="0.8" stroke-linejoin="miter" stroke-miterlimit="3"/><path d="M290.7,328.8 L291.4,325.9 L292.2,320.2 L292.7,318.6 L293.4,317.4 L294.1,318.8 L294.8,316.9 L295.5,318.4 L296.1,315.5 L296.8,312.4 L297.5,304.7 L298.0,306.2 L298.7,312.1 L299.5,312.0 L300.1,307.9 L300.8,309.1 L301.4,306.9 L302.0,311.2 L302.6,312.4 L303.4,313.3 L303.9,311.3 L304.6,312.8 L305.3,312.8 L306.2,316.4 L306.8,315.1 L307.6,316.7 L308.4,318.4 L309.0,321.5 L309.8,322.3 L310.4,320.8 L311.1,321.6 L311.9,322.6 L312.7,324.1 L313.5,327.0 L314.2,325.7 L315.0,328.9 L315.8,328.2 L316.6,330.5 L317.4,330.6 L318.2,331.3 L318.8,333.9 L319.5,334.6 L320.2,334.7 L320.9,335.6 L321.5,335.5 L322.2,337.2 L322.8,336.9 L323.5,338.0 L324.4,338.9 L325.1,339.3 L325.8,339.5 L326.6,339.3 L327.5,340.1 L328.2,340.6 L328.9,340.3 L329.5,340.2 L330.3,340.6 L330.9,340.4 L331.8,340.8 L332.3,341.4 L333.1,340.8 L333.7,341.6 L334.5,341.6 L335.1,341.8 L335.9,341.3 L336.6,341.5 L337.1,342.0 L337.9,342.1 L338.5,342.0 L339.2,341.6 L339.9,341.7 L340.7,342.3 L341.4,341.9 L342.0,341.9 L342.7,341.9 L343.0,342.2 L325.0,340.9 L324.6,341.1 L323.9,340.1 L323.3,340.6 L322.6,340.1 L321.8,339.8 L321.1,339.0 L320.3,338.4 L319.6,337.8 L318.9,337.8 L318.3,337.4 L317.5,336.8 L316.7,335.7 L316.1,334.1 L315.4,333.7 L314.8,333.9 L314.0,331.6 L313.5,332.2 L312.8,330.0 L312.2,329.2 L311.6,328.9 L310.9,329.0 L310.3,327.1 L309.6,327.9 L308.9,324.7 L308.1,325.4 L307.4,324.4 L306.7,322.6 L305.9,321.5 L305.3,318.3 L304.7,317.9 L304.1,318.9 L303.3,314.9 L302.5,316.2 L301.8,312.1 L301.2,314.8 L300.3,315.2 L299.5,316.3 L298.8,316.5 L298.1,315.8 L297.6,316.2 L297.0,318.6 L296.1,318.3 L295.3,321.5 L294.6,322.8 L293.9,322.3 L293.2,326.0 L292.4,327.5 L291.7,329.1 L291.1,331.7 L290.5,335.0Z" fill="#000" stroke="#000" stroke-width="0.8" stroke-linejoin="miter" stroke-miterlimit="4"/><path d="M290.7,328.8 L291.4,325.9 L292.2,320.2 L292.7,318.6 L293.4,317.4 L294.1,318.8 L294.8,316.9 L295.5,318.4 L296.1,315.5 L296.8,312.4 L297.5,304.7 L298.0,306.2 L298.7,312.1 L299.5,312.0 L300.1,307.9 L300.8,309.1 L301.4,306.9 L302.0,311.2 L302.6,312.4 L303.4,313.3 L303.9,311.3 L304.6,312.8 L305.3,312.8 L306.2,316.4 L306.8,315.1 L307.6,316.7 L308.4,318.4 L309.0,321.5 L309.8,322.3 L310.4,320.8 L311.1,321.6 L311.9,322.6 L312.7,324.1 L313.5,327.0 L314.2,325.7 L315.0,328.9 L315.8,328.2 L316.6,330.5 L317.4,330.6 L318.2,331.3 L318.8,333.9 L319.5,334.6 L320.2,334.7 L320.9,335.6 L321.5,335.5 L322.2,337.2 L322.8,336.9 L323.5,338.0 L324.4,338.9 L325.1,339.3 L325.8,339.5 L326.6,339.3 L327.5,340.1 L328.2,340.6 L328.9,340.3 L329.5,340.2 L330.3,340.6 L330.9,340.4 L331.8,340.8 L332.3,341.4 L333.1,340.8 L333.7,341.6 L334.5,341.6 L335.1,341.8 L335.9,341.3 L336.6,341.5 L337.1,342.0 L337.9,342.1 L338.5,342.0 L339.2,341.6 L339.9,341.7 L340.7,342.3 L341.4,341.9 L342.0,341.9 L342.7,341.9 L343.0,342.2" fill="none" stroke="#000" stroke-width="1.6" stroke-linejoin="miter" stroke-miterlimit="3" stroke-linecap="round"/><rect x="289.30" y="303.96" width="2.3" height="38.94" fill="#000"/><path d="M289.00,278.00 H379.30 V342.90" fill="none" stroke="#222" stroke-width="0.9"/><line x1="289.00" y1="277.60" x2="289.00" y2="343.90" stroke="#000" stroke-width="2.3"/><line x1="288.00" y1="342.90" x2="379.70" y2="342.90" stroke="#000" stroke-width="1.8"/><path d="M284.55,342.90h3.4M284.55,329.92h3.4M284.55,316.94h3.4M284.55,303.96h3.4M284.55,290.98h3.4M284.55,278.00h3.4" stroke="#000" stroke-width="1.1" fill="none"/><path d="M285.65,336.41h2.3M285.65,323.43h2.3M285.65,310.45h2.3M285.65,297.47h2.3M285.65,284.49h2.3" stroke="#000" stroke-width="0.9" fill="none"/><path d="M286.35,341.60h1.6M286.35,340.30h1.6M286.35,339.01h1.6M286.35,337.71h1.6M286.35,335.11h1.6M286.35,333.81h1.6M286.35,332.52h1.6M286.35,331.22h1.6M286.35,328.62h1.6M286.35,327.32h1.6M286.35,326.03h1.6M286.35,324.73h1.6M286.35,322.13h1.6M286.35,320.83h1.6M286.35,319.54h1.6M286.35,318.24h1.6M286.35,315.64h1.6M286.35,314.34h1.6M286.35,313.05h1.6M286.35,311.75h1.6M286.35,309.15h1.6M286.35,307.85h1.6M286.35,306.56h1.6M286.35,305.26h1.6M286.35,302.66h1.6M286.35,301.36h1.6M286.35,300.07h1.6M286.35,298.77h1.6M286.35,296.17h1.6M286.35,294.87h1.6M286.35,293.58h1.6M286.35,292.28h1.6M286.35,289.68h1.6M286.35,288.38h1.6M286.35,287.09h1.6M286.35,285.79h1.6M286.35,283.19h1.6M286.35,281.89h1.6M286.35,280.60h1.6M286.35,279.30h1.6" stroke="#000" stroke-width="0.75" fill="none"/><path d="M289.00,343.50v2.9M311.57,343.50v2.9M334.15,343.50v2.9M356.73,343.50v2.9M379.30,343.50v2.9" stroke="#000" stroke-width="1.1" fill="none"/><path d="M295.80,343.50v1.8M299.77,343.50v1.8M302.59,343.50v1.8M304.78,343.50v1.8M306.57,343.50v1.8M308.08,343.50v1.8M309.39,343.50v1.8M310.54,343.50v1.8M318.37,343.50v1.8M322.35,343.50v1.8M325.17,343.50v1.8M327.35,343.50v1.8M329.14,343.50v1.8M330.65,343.50v1.8M331.96,343.50v1.8M333.12,343.50v1.8M340.95,343.50v1.8M344.92,343.50v1.8M347.74,343.50v1.8M349.93,343.50v1.8M351.72,343.50v1.8M353.23,343.50v1.8M354.54,343.50v1.8M355.69,343.50v1.8M363.52,343.50v1.8M367.50,343.50v1.8M370.32,343.50v1.8M372.50,343.50v1.8M374.29,343.50v1.8M375.80,343.50v1.8M377.11,343.50v1.8M378.27,343.50v1.8" stroke="#000" stroke-width="0.8" fill="none"/><text transform="translate(282.25,342.25) rotate(-90) scale(1.12,1)" text-anchor="middle" class="yt">0</text><text transform="translate(282.25,329.53) rotate(-90) scale(1.12,1)" text-anchor="middle" class="yt">10</text><text transform="translate(282.25,316.81) rotate(-90) scale(1.12,1)" text-anchor="middle" class="yt">20</text><text transform="translate(282.25,304.09) rotate(-90) scale(1.12,1)" text-anchor="middle" class="yt">30</text><text transform="translate(282.25,291.37) rotate(-90) scale(1.12,1)" text-anchor="middle" class="yt">40</text><text transform="translate(282.25,278.65) rotate(-90) scale(1.12,1)" text-anchor="middle" class="yt">50</text><text transform="translate(273.70,311.75) rotate(-90)" text-anchor="middle" class="ct">Counts</text><text x="290.30" y="354.70" text-anchor="end" class="xt">10</text><text x="290.20" y="350.20" text-anchor="start" class="xs">0</text><text x="312.88" y="354.70" text-anchor="end" class="xt">10</text><text x="312.77" y="350.20" text-anchor="start" class="xs">1</text><text x="335.45" y="354.70" text-anchor="end" class="xt">10</text><text x="335.35" y="350.20" text-anchor="start" class="xs">2</text><text x="358.03" y="354.70" text-anchor="end" class="xt">10</text><text x="357.93" y="350.20" text-anchor="start" class="xs">3</text><text x="380.60" y="354.70" text-anchor="end" class="xt">10</text><text x="380.50" y="350.20" text-anchor="start" class="xs">4</text><text x="309.50" y="379.00" textLength="27.8" lengthAdjust="spacingAndGlyphs" class="lb">c-Kit</text></g>
<g><path d="M421.7,343.6 L421.7,342.0 L422.4,340.3 L423.5,336.1 L424.6,333.0 L425.5,330.4 L426.5,329.5 L427.2,324.2 L428.2,322.7 L429.0,317.1 L430.1,315.4 L430.9,316.3 L431.6,320.8 L432.6,317.0 L433.4,316.6 L434.2,313.0 L434.9,315.1 L435.6,312.4 L436.5,316.0 L437.5,315.7 L438.3,313.3 L439.4,315.8 L440.4,321.6 L441.3,319.3 L442.3,319.2 L443.1,319.7 L444.0,320.6 L445.0,317.4 L446.0,314.7 L446.7,317.0 L447.8,320.8 L448.6,320.0 L449.5,317.3 L450.6,323.6 L451.4,325.9 L452.5,324.7 L453.5,325.9 L454.4,326.4 L455.2,328.7 L456.1,329.2 L457.1,332.3 L457.8,330.9 L458.8,331.9 L459.5,331.2 L460.5,331.5 L461.4,333.0 L462.5,335.0 L463.4,336.6 L464.2,336.8 L465.1,336.8 L465.9,337.7 L467.0,339.1 L468.0,339.9 L468.7,341.5 L469.7,342.1 L470.8,341.7 L471.9,341.9 L472.7,342.1 L473.5,343.1 L474.3,342.8 L475.3,343.3 L476.1,343.2 L477.0,343.3 L478.1,342.8 L478.9,342.9 L479.7,343.0 L480.6,343.0 L481.7,343.0 L482.6,343.3 L483.6,343.3 L484.3,343.3 L485.0,343.0 L485.8,342.9 L486.7,343.1 L487.5,343.3 L488.3,343.3 L489.2,342.6 L490.3,341.8 L491.1,342.7 L491.9,342.9 L492.7,343.2 L493.0,343.3 L493.0,343.6Z" fill="#b5b5b5" stroke="none"/><path d="M421.7,342.0 L422.4,340.3 L423.5,336.1 L424.6,333.0 L425.5,330.4 L426.5,329.5 L427.2,324.2 L428.2,322.7 L429.0,317.1 L430.1,315.4 L430.9,316.3 L431.6,320.8 L432.6,317.0 L433.4,316.6 L434.2,313.0 L434.9,315.1 L435.6,312.4 L436.5,316.0 L437.5,315.7 L438.3,313.3 L439.4,315.8 L440.4,321.6 L441.3,319.3 L442.3,319.2 L443.1,319.7 L444.0,320.6 L445.0,317.4 L446.0,314.7 L446.7,317.0 L447.8,320.8 L448.6,320.0 L449.5,317.3 L450.6,323.6 L451.4,325.9 L452.5,324.7 L453.5,325.9 L454.4,326.4 L455.2,328.7 L456.1,329.2 L457.1,332.3 L457.8,330.9 L458.8,331.9 L459.5,331.2 L460.5,331.5 L461.4,333.0 L462.5,335.0 L463.4,336.6 L464.2,336.8 L465.1,336.8 L465.9,337.7 L467.0,339.1 L468.0,339.9 L468.7,341.5 L469.7,342.1 L470.8,341.7 L471.9,341.9 L472.7,342.1 L473.5,343.1 L474.3,342.8 L475.3,343.3 L476.1,343.2 L477.0,343.3 L478.1,342.8 L478.9,342.9 L479.7,343.0 L480.6,343.0 L481.7,343.0 L482.6,343.3 L483.6,343.3 L484.3,343.3 L485.0,343.0 L485.8,342.9 L486.7,343.1 L487.5,343.3 L488.3,343.3 L489.2,342.6 L490.3,341.8 L491.1,342.7 L491.9,342.9 L492.7,343.2 L493.0,343.3" fill="none" stroke="#111" stroke-width="1.2" stroke-linejoin="miter" stroke-miterlimit="3"/><path d="M420.5,330.0 L421.3,336.1 L422.3,335.0 L423.1,334.4 L423.9,331.5 L424.9,327.7 L425.7,323.5 L426.6,319.7 L427.6,311.1 L428.3,310.6 L429.0,301.5 L429.8,303.5 L430.8,298.5 L431.6,302.3 L432.2,296.7 L432.9,299.5 L433.8,296.3 L434.6,305.6 L435.5,309.0 L436.4,312.3 L437.4,308.4 L438.3,307.4 L439.1,307.1 L440.1,309.3 L440.8,306.4 L441.6,306.5 L442.3,301.9 L443.1,310.3 L443.9,318.0 L444.6,325.2 L445.4,329.9 L446.2,334.1 L447.1,334.0 L448.0,337.2 L448.6,336.0 L449.6,338.7 L450.3,339.8 L450.9,340.1 L451.5,339.8 L452.4,340.6 L453.3,339.6 L454.1,340.8 L455.1,341.5 L455.9,340.8 L456.7,340.9 L457.3,341.9 L458.0,341.1 L458.6,341.1 L459.5,341.1 L460.4,342.3 L461.3,341.3 L462.0,342.4 L462.7,341.8 L463.3,342.0 L464.3,342.0 L465.2,342.2 L466.0,341.9 L466.6,342.6 L467.6,342.0 L468.4,342.1 L469.4,342.2 L470.0,342.7" fill="none" stroke="#000" stroke-width="2.3" stroke-linejoin="miter" stroke-miterlimit="3" stroke-linecap="round"/><path d="M419.30,278.60 H512.00 V343.60" fill="none" stroke="#222" stroke-width="0.9"/><line x1="419.30" y1="278.20" x2="419.30" y2="344.60" stroke="#000" stroke-width="1.7"/><line x1="418.30" y1="343.60" x2="512.40" y2="343.60" stroke="#000" stroke-width="1.8"/><path d="M415.15,343.60h3.4M415.15,330.60h3.4M415.15,317.60h3.4M415.15,304.60h3.4M415.15,291.60h3.4M415.15,278.60h3.4" stroke="#000" stroke-width="1.1" fill="none"/><path d="M416.25,337.10h2.3M416.25,324.10h2.3M416.25,311.10h2.3M416.25,298.10h2.3M416.25,285.10h2.3" stroke="#000" stroke-width="0.9" fill="none"/><path d="M416.95,342.30h1.6M416.95,341.00h1.6M416.95,339.70h1.6M416.95,338.40h1.6M416.95,335.80h1.6M416.95,334.50h1.6M416.95,333.20h1.6M416.95,331.90h1.6M416.95,329.30h1.6M416.95,328.00h1.6M416.95,326.70h1.6M416.95,325.40h1.6M416.95,322.80h1.6M416.95,321.50h1.6M416.95,320.20h1.6M416.95,318.90h1.6M416.95,316.30h1.6M416.95,315.00h1.6M416.95,313.70h1.6M416.95,312.40h1.6M416.95,309.80h1.6M416.95,308.50h1.6M416.95,307.20h1.6M416.95,305.90h1.6M416.95,303.30h1.6M416.95,302.00h1.6M416.95,300.70h1.6M416.95,299.40h1.6M416.95,296.80h1.6M416.95,295.50h1.6M416.95,294.20h1.6M416.95,292.90h1.6M416.95,290.30h1.6M416.95,289.00h1.6M416.95,287.70h1.6M416.95,286.40h1.6M416.95,283.80h1.6M416.95,282.50h1.6M416.95,281.20h1.6M416.95,279.90h1.6" stroke="#000" stroke-width="0.75" fill="none"/><path d="M419.30,344.20v2.9M442.48,344.20v2.9M465.65,344.20v2.9M488.82,344.20v2.9M512.00,344.20v2.9" stroke="#000" stroke-width="1.1" fill="none"/><path d="M426.28,344.20v1.8M430.36,344.20v1.8M433.25,344.20v1.8M435.50,344.20v1.8M437.33,344.20v1.8M438.89,344.20v1.8M440.23,344.20v1.8M441.41,344.20v1.8M449.45,344.20v1.8M453.53,344.20v1.8M456.43,344.20v1.8M458.67,344.20v1.8M460.51,344.20v1.8M462.06,344.20v1.8M463.40,344.20v1.8M464.59,344.20v1.8M472.63,344.20v1.8M476.71,344.20v1.8M479.60,344.20v1.8M481.85,344.20v1.8M483.68,344.20v1.8M485.24,344.20v1.8M486.58,344.20v1.8M487.76,344.20v1.8M495.80,344.20v1.8M499.88,344.20v1.8M502.78,344.20v1.8M505.02,344.20v1.8M506.86,344.20v1.8M508.41,344.20v1.8M509.75,344.20v1.8M510.94,344.20v1.8" stroke="#000" stroke-width="0.8" fill="none"/><text transform="translate(412.85,342.95) rotate(-90) scale(1.12,1)" text-anchor="middle" class="yt">0</text><text transform="translate(412.85,330.21) rotate(-90) scale(1.12,1)" text-anchor="middle" class="yt">10</text><text transform="translate(412.85,317.47) rotate(-90) scale(1.12,1)" text-anchor="middle" class="yt">20</text><text transform="translate(412.85,304.73) rotate(-90) scale(1.12,1)" text-anchor="middle" class="yt">30</text><text transform="translate(412.85,291.99) rotate(-90) scale(1.12,1)" text-anchor="middle" class="yt">40</text><text transform="translate(412.85,279.25) rotate(-90) scale(1.12,1)" text-anchor="middle" class="yt">50</text><text transform="translate(404.00,312.40) rotate(-90)" text-anchor="middle" class="ct">Counts</text><text x="420.60" y="355.40" text-anchor="end" class="xt">10</text><text x="420.50" y="350.90" text-anchor="start" class="xs">0</text><text x="443.78" y="355.40" text-anchor="end" class="xt">10</text><text x="443.68" y="350.90" text-anchor="start" class="xs">1</text><text x="466.95" y="355.40" text-anchor="end" class="xt">10</text><text x="466.85" y="350.90" text-anchor="start" class="xs">2</text><text x="490.12" y="355.40" text-anchor="end" class="xt">10</text><text x="490.02" y="350.90" text-anchor="start" class="xs">3</text><text x="513.30" y="355.40" text-anchor="end" class="xt">10</text><text x="513.20" y="350.90" text-anchor="start" class="xs">4</text><text x="442.40" y="379.00" textLength="32.0" lengthAdjust="spacingAndGlyphs" class="lb">CD34</text></g>
</svg>
</body></html>
